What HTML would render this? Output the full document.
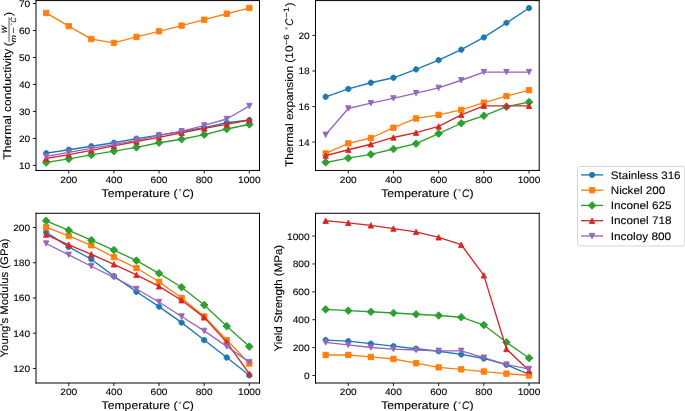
<!DOCTYPE html>
<html><head><meta charset="utf-8"><title>Material properties</title>
<style>html,body{margin:0;padding:0;background:#fff;}svg{display:block;}text{font-family:"Liberation Sans",sans-serif;} svg{will-change:transform;} text{stroke:#000;stroke-width:0.1px;text-rendering:geometricPrecision;}</style>
</head><body>
<svg  width="685" height="411" viewBox="0 0 685 411" version="1.1"><defs><style type="text/css">*{stroke-linejoin: round; stroke-linecap: butt}</style></defs><g id="figure_1"><g id="patch_1"><path d="M 0 411  L 685 411  L 685 0  L 0 0  z " style="fill: #ffffff"/></g><g id="axes_1"><g id="patch_2"><path d="M 36 170.45  L 259.5 170.45  L 259.5 0.6  L 36 0.6  z " style="fill: #ffffff"/></g><g id="matplotlib.axis_1"><g id="xtick_1"><g id="line2d_1"><defs></defs><g><path d="M 0 0  L 0 3.1  " style="stroke: #000000; stroke-width: 0.9;stroke: #000000; stroke-width: 0.9" transform="translate(68.735 170.45)"/></g></g><g id="text_1"><text style="font-size:9.345px;font-family:&quot;Liberation Sans&quot;, sans-serif;text-anchor:middle" x="68.735" y="182.913" textLength="16.988" lengthAdjust="spacingAndGlyphs">200</text></g></g><g id="xtick_2"><g id="line2d_2"><g><path d="M 0 0  L 0 3.1  " style="stroke: #000000; stroke-width: 0.9;stroke: #000000; stroke-width: 0.9" transform="translate(113.886 170.45)"/></g></g><g id="text_2"><text style="font-size:9.345px;font-family:&quot;Liberation Sans&quot;, sans-serif;text-anchor:middle" x="113.886" y="182.913" textLength="16.988" lengthAdjust="spacingAndGlyphs">400</text></g></g><g id="xtick_3"><g id="line2d_3"><g><path d="M 0 0  L 0 3.1  " style="stroke: #000000; stroke-width: 0.9;stroke: #000000; stroke-width: 0.9" transform="translate(159.038 170.45)"/></g></g><g id="text_3"><text style="font-size:9.345px;font-family:&quot;Liberation Sans&quot;, sans-serif;text-anchor:middle" x="159.038" y="182.913" textLength="16.988" lengthAdjust="spacingAndGlyphs">600</text></g></g><g id="xtick_4"><g id="line2d_4"><g><path d="M 0 0  L 0 3.1  " style="stroke: #000000; stroke-width: 0.9;stroke: #000000; stroke-width: 0.9" transform="translate(204.189 170.45)"/></g></g><g id="text_4"><text style="font-size:9.345px;font-family:&quot;Liberation Sans&quot;, sans-serif;text-anchor:middle" x="204.189" y="182.913" textLength="16.988" lengthAdjust="spacingAndGlyphs">800</text></g></g><g id="xtick_5"><g id="line2d_5"><g><path d="M 0 0  L 0 3.1  " style="stroke: #000000; stroke-width: 0.9;stroke: #000000; stroke-width: 0.9" transform="translate(249.341 170.45)"/></g></g><g id="text_5"><text style="font-size:9.345px;font-family:&quot;Liberation Sans&quot;, sans-serif;text-anchor:middle" x="249.341" y="182.913" textLength="22.651" lengthAdjust="spacingAndGlyphs">1000</text></g></g><g id="text_6" transform="translate(0 0.9) "><g transform="translate(101.55 196.443531)"><circle cx="78.367" cy="-7.182" r="0.911" style="fill:none;stroke:#000;stroke-width:0.456"/><text x="0" y="-0.656" style="font-size:11.025px;font-family:&quot;Liberation Sans&quot;, sans-serif" textLength="75.961" lengthAdjust="spacingAndGlyphs" xml:space="preserve">Temperature (</text><text x="88.299" y="-0.656" style="font-size:11.025px;font-family:&quot;Liberation Sans&quot;, sans-serif" textLength="4.096" lengthAdjust="spacingAndGlyphs" xml:space="preserve">)</text><text x="80.968" y="-0.656" style="font-size:11.025px;font-family:&quot;Liberation Sans&quot;, sans-serif;font-style:italic" textLength="7.332" lengthAdjust="spacingAndGlyphs" xml:space="preserve">C</text></g></g></g><g id="matplotlib.axis_2"><g id="ytick_1"><g id="line2d_6"><defs></defs><g><path d="M 0 0  L -3.1 0  " style="stroke: #000000; stroke-width: 0.9;stroke: #000000; stroke-width: 0.9" transform="translate(36 165.399)"/></g></g><g id="text_7"><text style="font-size:9.345px;font-family:&quot;Liberation Sans&quot;, sans-serif;text-anchor:end" x="30.2" y="168.88" textLength="11.325" lengthAdjust="spacingAndGlyphs">10</text></g></g><g id="ytick_2"><g id="line2d_7"><g><path d="M 0 0  L -3.1 0  " style="stroke: #000000; stroke-width: 0.9;stroke: #000000; stroke-width: 0.9" transform="translate(36 138.416)"/></g></g><g id="text_8"><text style="font-size:9.345px;font-family:&quot;Liberation Sans&quot;, sans-serif;text-anchor:end" x="30.2" y="141.897" textLength="11.325" lengthAdjust="spacingAndGlyphs">20</text></g></g><g id="ytick_3"><g id="line2d_8"><g><path d="M 0 0  L -3.1 0  " style="stroke: #000000; stroke-width: 0.9;stroke: #000000; stroke-width: 0.9" transform="translate(36 111.433)"/></g></g><g id="text_9"><text style="font-size:9.345px;font-family:&quot;Liberation Sans&quot;, sans-serif;text-anchor:end" x="30.2" y="114.914" textLength="11.325" lengthAdjust="spacingAndGlyphs">30</text></g></g><g id="ytick_4"><g id="line2d_9"><g><path d="M 0 0  L -3.1 0  " style="stroke: #000000; stroke-width: 0.9;stroke: #000000; stroke-width: 0.9" transform="translate(36 84.45)"/></g></g><g id="text_10"><text style="font-size:9.345px;font-family:&quot;Liberation Sans&quot;, sans-serif;text-anchor:end" x="30.2" y="87.931" textLength="11.325" lengthAdjust="spacingAndGlyphs">40</text></g></g><g id="ytick_5"><g id="line2d_10"><g><path d="M 0 0  L -3.1 0  " style="stroke: #000000; stroke-width: 0.9;stroke: #000000; stroke-width: 0.9" transform="translate(36 57.467)"/></g></g><g id="text_11"><text style="font-size:9.345px;font-family:&quot;Liberation Sans&quot;, sans-serif;text-anchor:end" x="30.2" y="60.948" textLength="11.325" lengthAdjust="spacingAndGlyphs">50</text></g></g><g id="ytick_6"><g id="line2d_11"><g><path d="M 0 0  L -3.1 0  " style="stroke: #000000; stroke-width: 0.9;stroke: #000000; stroke-width: 0.9" transform="translate(36 30.484)"/></g></g><g id="text_12"><text style="font-size:9.345px;font-family:&quot;Liberation Sans&quot;, sans-serif;text-anchor:end" x="30.2" y="33.965" textLength="11.325" lengthAdjust="spacingAndGlyphs">60</text></g></g><g id="ytick_7"><g id="line2d_12"><g><path d="M 0 0  L -3.1 0  " style="stroke: #000000; stroke-width: 0.9;stroke: #000000; stroke-width: 0.9" transform="translate(36 3.501)"/></g></g><g id="text_13"><text style="font-size:9.345px;font-family:&quot;Liberation Sans&quot;, sans-serif;text-anchor:end" x="30.2" y="6.982" textLength="11.325" lengthAdjust="spacingAndGlyphs">70</text></g></g><g id="text_14" transform="translate(1.0 -0.2) "><g transform="translate(10.96975 159.97) rotate(-90)"><text x="126.638" y="-4.889" style="font-size:7.718px;font-family:&quot;Liberation Sans&quot;, sans-serif;font-style:italic" textLength="7.267" lengthAdjust="spacingAndGlyphs" xml:space="preserve">W</text><text x="0" y="-0.631" style="font-size:11.025px;font-family:&quot;Liberation Sans&quot;, sans-serif" textLength="114.541" lengthAdjust="spacingAndGlyphs" xml:space="preserve">Thermal conductivity </text><text x="113.541" y="-0.131" style="font-size:11.025px;font-family:&quot;Liberation Sans&quot;, sans-serif" textLength="4.096" lengthAdjust="spacingAndGlyphs" xml:space="preserve">(</text><text x="143.769" y="-0.131" style="font-size:11.025px;font-family:&quot;Liberation Sans&quot;, sans-serif" textLength="4.096" lengthAdjust="spacingAndGlyphs" xml:space="preserve">)</text><circle cx="135.504" cy="-0.456" r="0.638" style="fill:none;stroke:#000;stroke-width:0.319"/><text x="126.229" y="4.112" style="font-size:7.718px;font-family:&quot;Liberation Sans&quot;, sans-serif" textLength="6.158" lengthAdjust="spacingAndGlyphs" xml:space="preserve">−</text><text x="117.638" y="4.112" style="font-size:7.718px;font-family:&quot;Liberation Sans&quot;, sans-serif;font-style:italic" textLength="7.16" lengthAdjust="spacingAndGlyphs" xml:space="preserve">m</text><text x="137.325" y="4.112" style="font-size:7.718px;font-family:&quot;Liberation Sans&quot;, sans-serif;font-style:italic" textLength="5.132" lengthAdjust="spacingAndGlyphs" xml:space="preserve">C</text><rect x="117.638" y="-3.264" width="24.81917" height="0.65625"/></g></g></g><g id="line2d_13"><path d="M 46.159091 153.256421  L 68.734848 149.748629  L 91.310606 146.240837  L 113.886364 142.733044  L 136.462121 138.685592  L 159.037879 135.1778  L 181.613636 131.400177  L 204.189394 127.622555  L 226.765152 122.765612  L 249.340909 120.06731  " clip-path="url(#pe776937f75)" style="fill: none; stroke: #1f77b4; stroke-width: 1.35; stroke-linecap: square"/><defs></defs><g clip-path="url(#pe776937f75)"><path d="M 0 2.7  C 0.716048 2.7 1.402866 2.415511 1.909188 1.909188  C 2.415511 1.402866 2.7 0.716048 2.7 0  C 2.7 -0.716048 2.415511 -1.402866 1.909188 -1.909188  C 1.402866 -2.415511 0.716048 -2.7 0 -2.7  C -0.716048 -2.7 -1.402866 -2.415511 -1.909188 -1.909188  C -2.415511 -1.402866 -2.7 -0.716048 -2.7 0  C -2.7 0.716048 -2.415511 1.402866 -1.909188 1.909188  C -1.402866 2.415511 -0.716048 2.7 0 2.7  z " style="stroke: #1f77b4; stroke-width: 0.9;fill: #1f77b4; stroke: #1f77b4; stroke-width: 0.9" transform="translate(46.159 153.256)"/><path d="M 0 2.7  C 0.716048 2.7 1.402866 2.415511 1.909188 1.909188  C 2.415511 1.402866 2.7 0.716048 2.7 0  C 2.7 -0.716048 2.415511 -1.402866 1.909188 -1.909188  C 1.402866 -2.415511 0.716048 -2.7 0 -2.7  C -0.716048 -2.7 -1.402866 -2.415511 -1.909188 -1.909188  C -2.415511 -1.402866 -2.7 -0.716048 -2.7 0  C -2.7 0.716048 -2.415511 1.402866 -1.909188 1.909188  C -1.402866 2.415511 -0.716048 2.7 0 2.7  z " style="stroke: #1f77b4; stroke-width: 0.9;fill: #1f77b4; stroke: #1f77b4; stroke-width: 0.9" transform="translate(68.735 149.749)"/><path d="M 0 2.7  C 0.716048 2.7 1.402866 2.415511 1.909188 1.909188  C 2.415511 1.402866 2.7 0.716048 2.7 0  C 2.7 -0.716048 2.415511 -1.402866 1.909188 -1.909188  C 1.402866 -2.415511 0.716048 -2.7 0 -2.7  C -0.716048 -2.7 -1.402866 -2.415511 -1.909188 -1.909188  C -2.415511 -1.402866 -2.7 -0.716048 -2.7 0  C -2.7 0.716048 -2.415511 1.402866 -1.909188 1.909188  C -1.402866 2.415511 -0.716048 2.7 0 2.7  z " style="stroke: #1f77b4; stroke-width: 0.9;fill: #1f77b4; stroke: #1f77b4; stroke-width: 0.9" transform="translate(91.311 146.241)"/><path d="M 0 2.7  C 0.716048 2.7 1.402866 2.415511 1.909188 1.909188  C 2.415511 1.402866 2.7 0.716048 2.7 0  C 2.7 -0.716048 2.415511 -1.402866 1.909188 -1.909188  C 1.402866 -2.415511 0.716048 -2.7 0 -2.7  C -0.716048 -2.7 -1.402866 -2.415511 -1.909188 -1.909188  C -2.415511 -1.402866 -2.7 -0.716048 -2.7 0  C -2.7 0.716048 -2.415511 1.402866 -1.909188 1.909188  C -1.402866 2.415511 -0.716048 2.7 0 2.7  z " style="stroke: #1f77b4; stroke-width: 0.9;fill: #1f77b4; stroke: #1f77b4; stroke-width: 0.9" transform="translate(113.886 142.733)"/><path d="M 0 2.7  C 0.716048 2.7 1.402866 2.415511 1.909188 1.909188  C 2.415511 1.402866 2.7 0.716048 2.7 0  C 2.7 -0.716048 2.415511 -1.402866 1.909188 -1.909188  C 1.402866 -2.415511 0.716048 -2.7 0 -2.7  C -0.716048 -2.7 -1.402866 -2.415511 -1.909188 -1.909188  C -2.415511 -1.402866 -2.7 -0.716048 -2.7 0  C -2.7 0.716048 -2.415511 1.402866 -1.909188 1.909188  C -1.402866 2.415511 -0.716048 2.7 0 2.7  z " style="stroke: #1f77b4; stroke-width: 0.9;fill: #1f77b4; stroke: #1f77b4; stroke-width: 0.9" transform="translate(136.462 138.686)"/><path d="M 0 2.7  C 0.716048 2.7 1.402866 2.415511 1.909188 1.909188  C 2.415511 1.402866 2.7 0.716048 2.7 0  C 2.7 -0.716048 2.415511 -1.402866 1.909188 -1.909188  C 1.402866 -2.415511 0.716048 -2.7 0 -2.7  C -0.716048 -2.7 -1.402866 -2.415511 -1.909188 -1.909188  C -2.415511 -1.402866 -2.7 -0.716048 -2.7 0  C -2.7 0.716048 -2.415511 1.402866 -1.909188 1.909188  C -1.402866 2.415511 -0.716048 2.7 0 2.7  z " style="stroke: #1f77b4; stroke-width: 0.9;fill: #1f77b4; stroke: #1f77b4; stroke-width: 0.9" transform="translate(159.038 135.178)"/><path d="M 0 2.7  C 0.716048 2.7 1.402866 2.415511 1.909188 1.909188  C 2.415511 1.402866 2.7 0.716048 2.7 0  C 2.7 -0.716048 2.415511 -1.402866 1.909188 -1.909188  C 1.402866 -2.415511 0.716048 -2.7 0 -2.7  C -0.716048 -2.7 -1.402866 -2.415511 -1.909188 -1.909188  C -2.415511 -1.402866 -2.7 -0.716048 -2.7 0  C -2.7 0.716048 -2.415511 1.402866 -1.909188 1.909188  C -1.402866 2.415511 -0.716048 2.7 0 2.7  z " style="stroke: #1f77b4; stroke-width: 0.9;fill: #1f77b4; stroke: #1f77b4; stroke-width: 0.9" transform="translate(181.614 131.4)"/><path d="M 0 2.7  C 0.716048 2.7 1.402866 2.415511 1.909188 1.909188  C 2.415511 1.402866 2.7 0.716048 2.7 0  C 2.7 -0.716048 2.415511 -1.402866 1.909188 -1.909188  C 1.402866 -2.415511 0.716048 -2.7 0 -2.7  C -0.716048 -2.7 -1.402866 -2.415511 -1.909188 -1.909188  C -2.415511 -1.402866 -2.7 -0.716048 -2.7 0  C -2.7 0.716048 -2.415511 1.402866 -1.909188 1.909188  C -1.402866 2.415511 -0.716048 2.7 0 2.7  z " style="stroke: #1f77b4; stroke-width: 0.9;fill: #1f77b4; stroke: #1f77b4; stroke-width: 0.9" transform="translate(204.189 127.623)"/><path d="M 0 2.7  C 0.716048 2.7 1.402866 2.415511 1.909188 1.909188  C 2.415511 1.402866 2.7 0.716048 2.7 0  C 2.7 -0.716048 2.415511 -1.402866 1.909188 -1.909188  C 1.402866 -2.415511 0.716048 -2.7 0 -2.7  C -0.716048 -2.7 -1.402866 -2.415511 -1.909188 -1.909188  C -2.415511 -1.402866 -2.7 -0.716048 -2.7 0  C -2.7 0.716048 -2.415511 1.402866 -1.909188 1.909188  C -1.402866 2.415511 -0.716048 2.7 0 2.7  z " style="stroke: #1f77b4; stroke-width: 0.9;fill: #1f77b4; stroke: #1f77b4; stroke-width: 0.9" transform="translate(226.765 122.766)"/><path d="M 0 2.7  C 0.716048 2.7 1.402866 2.415511 1.909188 1.909188  C 2.415511 1.402866 2.7 0.716048 2.7 0  C 2.7 -0.716048 2.415511 -1.402866 1.909188 -1.909188  C 1.402866 -2.415511 0.716048 -2.7 0 -2.7  C -0.716048 -2.7 -1.402866 -2.415511 -1.909188 -1.909188  C -2.415511 -1.402866 -2.7 -0.716048 -2.7 0  C -2.7 0.716048 -2.415511 1.402866 -1.909188 1.909188  C -1.402866 2.415511 -0.716048 2.7 0 2.7  z " style="stroke: #1f77b4; stroke-width: 0.9;fill: #1f77b4; stroke: #1f77b4; stroke-width: 0.9" transform="translate(249.341 120.067)"/></g></g><g id="line2d_14"><path d="M 46.159091 12.94473  L 68.734848 26.166409  L 91.310606 39.118257  L 113.886364 42.89588  L 136.462121 36.959616  L 159.037879 31.293182  L 181.613636 25.626749  L 204.189394 19.690485  L 226.765152 13.754221  L 249.340909 7.952872  " clip-path="url(#pe776937f75)" style="fill: none; stroke: #ff7f0e; stroke-width: 1.35; stroke-linecap: square"/><defs></defs><g clip-path="url(#pe776937f75)"><path d="M -2.7 2.7  L 2.7 2.7  L 2.7 -2.7  L -2.7 -2.7  z " style="stroke: #ff7f0e; stroke-width: 0.9; stroke-linejoin: miter;fill: #ff7f0e; stroke: #ff7f0e; stroke-width: 0.9; stroke-linejoin: miter" transform="translate(46.159 12.945)"/><path d="M -2.7 2.7  L 2.7 2.7  L 2.7 -2.7  L -2.7 -2.7  z " style="stroke: #ff7f0e; stroke-width: 0.9; stroke-linejoin: miter;fill: #ff7f0e; stroke: #ff7f0e; stroke-width: 0.9; stroke-linejoin: miter" transform="translate(68.735 26.166)"/><path d="M -2.7 2.7  L 2.7 2.7  L 2.7 -2.7  L -2.7 -2.7  z " style="stroke: #ff7f0e; stroke-width: 0.9; stroke-linejoin: miter;fill: #ff7f0e; stroke: #ff7f0e; stroke-width: 0.9; stroke-linejoin: miter" transform="translate(91.311 39.118)"/><path d="M -2.7 2.7  L 2.7 2.7  L 2.7 -2.7  L -2.7 -2.7  z " style="stroke: #ff7f0e; stroke-width: 0.9; stroke-linejoin: miter;fill: #ff7f0e; stroke: #ff7f0e; stroke-width: 0.9; stroke-linejoin: miter" transform="translate(113.886 42.896)"/><path d="M -2.7 2.7  L 2.7 2.7  L 2.7 -2.7  L -2.7 -2.7  z " style="stroke: #ff7f0e; stroke-width: 0.9; stroke-linejoin: miter;fill: #ff7f0e; stroke: #ff7f0e; stroke-width: 0.9; stroke-linejoin: miter" transform="translate(136.462 36.96)"/><path d="M -2.7 2.7  L 2.7 2.7  L 2.7 -2.7  L -2.7 -2.7  z " style="stroke: #ff7f0e; stroke-width: 0.9; stroke-linejoin: miter;fill: #ff7f0e; stroke: #ff7f0e; stroke-width: 0.9; stroke-linejoin: miter" transform="translate(159.038 31.293)"/><path d="M -2.7 2.7  L 2.7 2.7  L 2.7 -2.7  L -2.7 -2.7  z " style="stroke: #ff7f0e; stroke-width: 0.9; stroke-linejoin: miter;fill: #ff7f0e; stroke: #ff7f0e; stroke-width: 0.9; stroke-linejoin: miter" transform="translate(181.614 25.627)"/><path d="M -2.7 2.7  L 2.7 2.7  L 2.7 -2.7  L -2.7 -2.7  z " style="stroke: #ff7f0e; stroke-width: 0.9; stroke-linejoin: miter;fill: #ff7f0e; stroke: #ff7f0e; stroke-width: 0.9; stroke-linejoin: miter" transform="translate(204.189 19.69)"/><path d="M -2.7 2.7  L 2.7 2.7  L 2.7 -2.7  L -2.7 -2.7  z " style="stroke: #ff7f0e; stroke-width: 0.9; stroke-linejoin: miter;fill: #ff7f0e; stroke: #ff7f0e; stroke-width: 0.9; stroke-linejoin: miter" transform="translate(226.765 13.754)"/><path d="M -2.7 2.7  L 2.7 2.7  L 2.7 -2.7  L -2.7 -2.7  z " style="stroke: #ff7f0e; stroke-width: 0.9; stroke-linejoin: miter;fill: #ff7f0e; stroke: #ff7f0e; stroke-width: 0.9; stroke-linejoin: miter" transform="translate(249.341 7.953)"/></g></g><g id="line2d_15"><path d="M 46.159091 162.484613  L 68.734848 158.922855  L 91.310606 154.875402  L 113.886364 151.09778  L 136.462121 147.320157  L 159.037879 142.733044  L 181.613636 139.225252  L 204.189394 134.638139  L 226.765152 128.971706  L 249.340909 124.384593  " clip-path="url(#pe776937f75)" style="fill: none; stroke: #2ca02c; stroke-width: 1.35; stroke-linecap: square"/><defs></defs><g clip-path="url(#pe776937f75)"><path d="M -0 3.818377  L 3.818377 0  L 0 -3.818377  L -3.818377 -0  z " style="stroke: #2ca02c; stroke-width: 0.9; stroke-linejoin: miter;fill: #2ca02c; stroke: #2ca02c; stroke-width: 0.9; stroke-linejoin: miter" transform="translate(46.159 162.485)"/><path d="M -0 3.818377  L 3.818377 0  L 0 -3.818377  L -3.818377 -0  z " style="stroke: #2ca02c; stroke-width: 0.9; stroke-linejoin: miter;fill: #2ca02c; stroke: #2ca02c; stroke-width: 0.9; stroke-linejoin: miter" transform="translate(68.735 158.923)"/><path d="M -0 3.818377  L 3.818377 0  L 0 -3.818377  L -3.818377 -0  z " style="stroke: #2ca02c; stroke-width: 0.9; stroke-linejoin: miter;fill: #2ca02c; stroke: #2ca02c; stroke-width: 0.9; stroke-linejoin: miter" transform="translate(91.311 154.875)"/><path d="M -0 3.818377  L 3.818377 0  L 0 -3.818377  L -3.818377 -0  z " style="stroke: #2ca02c; stroke-width: 0.9; stroke-linejoin: miter;fill: #2ca02c; stroke: #2ca02c; stroke-width: 0.9; stroke-linejoin: miter" transform="translate(113.886 151.098)"/><path d="M -0 3.818377  L 3.818377 0  L 0 -3.818377  L -3.818377 -0  z " style="stroke: #2ca02c; stroke-width: 0.9; stroke-linejoin: miter;fill: #2ca02c; stroke: #2ca02c; stroke-width: 0.9; stroke-linejoin: miter" transform="translate(136.462 147.32)"/><path d="M -0 3.818377  L 3.818377 0  L 0 -3.818377  L -3.818377 -0  z " style="stroke: #2ca02c; stroke-width: 0.9; stroke-linejoin: miter;fill: #2ca02c; stroke: #2ca02c; stroke-width: 0.9; stroke-linejoin: miter" transform="translate(159.038 142.733)"/><path d="M -0 3.818377  L 3.818377 0  L 0 -3.818377  L -3.818377 -0  z " style="stroke: #2ca02c; stroke-width: 0.9; stroke-linejoin: miter;fill: #2ca02c; stroke: #2ca02c; stroke-width: 0.9; stroke-linejoin: miter" transform="translate(181.614 139.225)"/><path d="M -0 3.818377  L 3.818377 0  L 0 -3.818377  L -3.818377 -0  z " style="stroke: #2ca02c; stroke-width: 0.9; stroke-linejoin: miter;fill: #2ca02c; stroke: #2ca02c; stroke-width: 0.9; stroke-linejoin: miter" transform="translate(204.189 134.638)"/><path d="M -0 3.818377  L 3.818377 0  L 0 -3.818377  L -3.818377 -0  z " style="stroke: #2ca02c; stroke-width: 0.9; stroke-linejoin: miter;fill: #2ca02c; stroke: #2ca02c; stroke-width: 0.9; stroke-linejoin: miter" transform="translate(226.765 128.972)"/><path d="M -0 3.818377  L 3.818377 0  L 0 -3.818377  L -3.818377 -0  z " style="stroke: #2ca02c; stroke-width: 0.9; stroke-linejoin: miter;fill: #2ca02c; stroke: #2ca02c; stroke-width: 0.9; stroke-linejoin: miter" transform="translate(249.341 124.385)"/></g></g><g id="line2d_16"><path d="M 46.159091 158.383195  L 68.734848 154.605572  L 91.310606 150.288289  L 113.886364 145.836091  L 136.462121 141.518809  L 159.037879 137.336441  L 181.613636 132.749328  L 204.189394 128.432045  L 226.765152 124.384593  L 249.340909 120.06731  " clip-path="url(#pe776937f75)" style="fill: none; stroke: #d62728; stroke-width: 1.35; stroke-linecap: square"/><defs></defs><g clip-path="url(#pe776937f75)"><path d="M 0 -2.7  L -2.7 2.7  L 2.7 2.7  z " style="stroke: #d62728; stroke-width: 0.9; stroke-linejoin: miter;fill: #d62728; stroke: #d62728; stroke-width: 0.9; stroke-linejoin: miter" transform="translate(46.159 158.383)"/><path d="M 0 -2.7  L -2.7 2.7  L 2.7 2.7  z " style="stroke: #d62728; stroke-width: 0.9; stroke-linejoin: miter;fill: #d62728; stroke: #d62728; stroke-width: 0.9; stroke-linejoin: miter" transform="translate(68.735 154.606)"/><path d="M 0 -2.7  L -2.7 2.7  L 2.7 2.7  z " style="stroke: #d62728; stroke-width: 0.9; stroke-linejoin: miter;fill: #d62728; stroke: #d62728; stroke-width: 0.9; stroke-linejoin: miter" transform="translate(91.311 150.288)"/><path d="M 0 -2.7  L -2.7 2.7  L 2.7 2.7  z " style="stroke: #d62728; stroke-width: 0.9; stroke-linejoin: miter;fill: #d62728; stroke: #d62728; stroke-width: 0.9; stroke-linejoin: miter" transform="translate(113.886 145.836)"/><path d="M 0 -2.7  L -2.7 2.7  L 2.7 2.7  z " style="stroke: #d62728; stroke-width: 0.9; stroke-linejoin: miter;fill: #d62728; stroke: #d62728; stroke-width: 0.9; stroke-linejoin: miter" transform="translate(136.462 141.519)"/><path d="M 0 -2.7  L -2.7 2.7  L 2.7 2.7  z " style="stroke: #d62728; stroke-width: 0.9; stroke-linejoin: miter;fill: #d62728; stroke: #d62728; stroke-width: 0.9; stroke-linejoin: miter" transform="translate(159.038 137.336)"/><path d="M 0 -2.7  L -2.7 2.7  L 2.7 2.7  z " style="stroke: #d62728; stroke-width: 0.9; stroke-linejoin: miter;fill: #d62728; stroke: #d62728; stroke-width: 0.9; stroke-linejoin: miter" transform="translate(181.614 132.749)"/><path d="M 0 -2.7  L -2.7 2.7  L 2.7 2.7  z " style="stroke: #d62728; stroke-width: 0.9; stroke-linejoin: miter;fill: #d62728; stroke: #d62728; stroke-width: 0.9; stroke-linejoin: miter" transform="translate(204.189 128.432)"/><path d="M 0 -2.7  L -2.7 2.7  L 2.7 2.7  z " style="stroke: #d62728; stroke-width: 0.9; stroke-linejoin: miter;fill: #d62728; stroke: #d62728; stroke-width: 0.9; stroke-linejoin: miter" transform="translate(226.765 124.385)"/><path d="M 0 -2.7  L -2.7 2.7  L 2.7 2.7  z " style="stroke: #d62728; stroke-width: 0.9; stroke-linejoin: miter;fill: #d62728; stroke: #d62728; stroke-width: 0.9; stroke-linejoin: miter" transform="translate(249.341 120.067)"/></g></g><g id="line2d_17"><path d="M 46.159091 156.494383  L 68.734848 152.446931  L 91.310606 148.399478  L 113.886364 144.621856  L 136.462121 140.304573  L 159.037879 135.44763  L 181.613636 131.400177  L 204.189394 125.463913  L 226.765152 118.987989  L 249.340909 106.036141  " clip-path="url(#pe776937f75)" style="fill: none; stroke: #9467bd; stroke-width: 1.35; stroke-linecap: square"/><defs></defs><g clip-path="url(#pe776937f75)"><path d="M -0 2.7  L 2.7 -2.7  L -2.7 -2.7  z " style="stroke: #9467bd; stroke-width: 0.9; stroke-linejoin: miter;fill: #9467bd; stroke: #9467bd; stroke-width: 0.9; stroke-linejoin: miter" transform="translate(46.159 156.494)"/><path d="M -0 2.7  L 2.7 -2.7  L -2.7 -2.7  z " style="stroke: #9467bd; stroke-width: 0.9; stroke-linejoin: miter;fill: #9467bd; stroke: #9467bd; stroke-width: 0.9; stroke-linejoin: miter" transform="translate(68.735 152.447)"/><path d="M -0 2.7  L 2.7 -2.7  L -2.7 -2.7  z " style="stroke: #9467bd; stroke-width: 0.9; stroke-linejoin: miter;fill: #9467bd; stroke: #9467bd; stroke-width: 0.9; stroke-linejoin: miter" transform="translate(91.311 148.399)"/><path d="M -0 2.7  L 2.7 -2.7  L -2.7 -2.7  z " style="stroke: #9467bd; stroke-width: 0.9; stroke-linejoin: miter;fill: #9467bd; stroke: #9467bd; stroke-width: 0.9; stroke-linejoin: miter" transform="translate(113.886 144.622)"/><path d="M -0 2.7  L 2.7 -2.7  L -2.7 -2.7  z " style="stroke: #9467bd; stroke-width: 0.9; stroke-linejoin: miter;fill: #9467bd; stroke: #9467bd; stroke-width: 0.9; stroke-linejoin: miter" transform="translate(136.462 140.305)"/><path d="M -0 2.7  L 2.7 -2.7  L -2.7 -2.7  z " style="stroke: #9467bd; stroke-width: 0.9; stroke-linejoin: miter;fill: #9467bd; stroke: #9467bd; stroke-width: 0.9; stroke-linejoin: miter" transform="translate(159.038 135.448)"/><path d="M -0 2.7  L 2.7 -2.7  L -2.7 -2.7  z " style="stroke: #9467bd; stroke-width: 0.9; stroke-linejoin: miter;fill: #9467bd; stroke: #9467bd; stroke-width: 0.9; stroke-linejoin: miter" transform="translate(181.614 131.4)"/><path d="M -0 2.7  L 2.7 -2.7  L -2.7 -2.7  z " style="stroke: #9467bd; stroke-width: 0.9; stroke-linejoin: miter;fill: #9467bd; stroke: #9467bd; stroke-width: 0.9; stroke-linejoin: miter" transform="translate(204.189 125.464)"/><path d="M -0 2.7  L 2.7 -2.7  L -2.7 -2.7  z " style="stroke: #9467bd; stroke-width: 0.9; stroke-linejoin: miter;fill: #9467bd; stroke: #9467bd; stroke-width: 0.9; stroke-linejoin: miter" transform="translate(226.765 118.988)"/><path d="M -0 2.7  L 2.7 -2.7  L -2.7 -2.7  z " style="stroke: #9467bd; stroke-width: 0.9; stroke-linejoin: miter;fill: #9467bd; stroke: #9467bd; stroke-width: 0.9; stroke-linejoin: miter" transform="translate(249.341 106.036)"/></g></g><g id="patch_3"><path d="M 36 170.45  L 36 0.6  " style="fill: none; stroke: #000000; stroke-linejoin: miter; stroke-linecap: square"/></g><g id="patch_4"><path d="M 259.5 170.45  L 259.5 0.6  " style="fill: none; stroke: #000000; stroke-linejoin: miter; stroke-linecap: square"/></g><g id="patch_5"><path d="M 36 170.45  L 259.5 170.45  " style="fill: none; stroke: #000000; stroke-linejoin: miter; stroke-linecap: square"/></g><g id="patch_6"><path d="M 36 0.6  L 259.5 0.6  " style="fill: none; stroke: #000000; stroke-linejoin: miter; stroke-linecap: square"/></g></g><g id="axes_2"><g id="patch_7"><path d="M 315.5 170.45  L 539.2 170.45  L 539.2 0.6  L 315.5 0.6  z " style="fill: #ffffff"/></g><g id="matplotlib.axis_3"><g id="xtick_6"><g id="line2d_18"><g><path d="M 0 0  L 0 3.1  " style="stroke: #000000; stroke-width: 0.9;stroke: #000000; stroke-width: 0.9" transform="translate(348.264 170.45)"/></g></g><g id="text_15"><text style="font-size:9.345px;font-family:&quot;Liberation Sans&quot;, sans-serif;text-anchor:middle" x="348.264" y="182.913" textLength="16.988" lengthAdjust="spacingAndGlyphs">200</text></g></g><g id="xtick_7"><g id="line2d_19"><g><path d="M 0 0  L 0 3.1  " style="stroke: #000000; stroke-width: 0.9;stroke: #000000; stroke-width: 0.9" transform="translate(393.456 170.45)"/></g></g><g id="text_16"><text style="font-size:9.345px;font-family:&quot;Liberation Sans&quot;, sans-serif;text-anchor:middle" x="393.456" y="182.913" textLength="16.988" lengthAdjust="spacingAndGlyphs">400</text></g></g><g id="xtick_8"><g id="line2d_20"><g><path d="M 0 0  L 0 3.1  " style="stroke: #000000; stroke-width: 0.9;stroke: #000000; stroke-width: 0.9" transform="translate(438.648 170.45)"/></g></g><g id="text_17"><text style="font-size:9.345px;font-family:&quot;Liberation Sans&quot;, sans-serif;text-anchor:middle" x="438.648" y="182.913" textLength="16.988" lengthAdjust="spacingAndGlyphs">600</text></g></g><g id="xtick_9"><g id="line2d_21"><g><path d="M 0 0  L 0 3.1  " style="stroke: #000000; stroke-width: 0.9;stroke: #000000; stroke-width: 0.9" transform="translate(483.84 170.45)"/></g></g><g id="text_18"><text style="font-size:9.345px;font-family:&quot;Liberation Sans&quot;, sans-serif;text-anchor:middle" x="483.84" y="182.913" textLength="16.988" lengthAdjust="spacingAndGlyphs">800</text></g></g><g id="xtick_10"><g id="line2d_22"><g><path d="M 0 0  L 0 3.1  " style="stroke: #000000; stroke-width: 0.9;stroke: #000000; stroke-width: 0.9" transform="translate(529.032 170.45)"/></g></g><g id="text_19"><text style="font-size:9.345px;font-family:&quot;Liberation Sans&quot;, sans-serif;text-anchor:middle" x="529.032" y="182.913" textLength="22.651" lengthAdjust="spacingAndGlyphs">1000</text></g></g><g id="text_20" transform="translate(0 0.9) "><g transform="translate(381.15 196.443531)"><circle cx="78.367" cy="-7.182" r="0.911" style="fill:none;stroke:#000;stroke-width:0.456"/><text x="0" y="-0.656" style="font-size:11.025px;font-family:&quot;Liberation Sans&quot;, sans-serif" textLength="75.961" lengthAdjust="spacingAndGlyphs" xml:space="preserve">Temperature (</text><text x="88.299" y="-0.656" style="font-size:11.025px;font-family:&quot;Liberation Sans&quot;, sans-serif" textLength="4.096" lengthAdjust="spacingAndGlyphs" xml:space="preserve">)</text><text x="80.968" y="-0.656" style="font-size:11.025px;font-family:&quot;Liberation Sans&quot;, sans-serif;font-style:italic" textLength="7.332" lengthAdjust="spacingAndGlyphs" xml:space="preserve">C</text></g></g></g><g id="matplotlib.axis_4"><g id="ytick_8"><g id="line2d_23"><g><path d="M 0 0  L -3.1 0  " style="stroke: #000000; stroke-width: 0.9;stroke: #000000; stroke-width: 0.9" transform="translate(315.5 142.088)"/></g></g><g id="text_21"><text style="font-size:9.345px;font-family:&quot;Liberation Sans&quot;, sans-serif;text-anchor:end" x="309.7" y="145.57" textLength="11.325" lengthAdjust="spacingAndGlyphs">14</text></g></g><g id="ytick_9"><g id="line2d_24"><g><path d="M 0 0  L -3.1 0  " style="stroke: #000000; stroke-width: 0.9;stroke: #000000; stroke-width: 0.9" transform="translate(315.5 106.547)"/></g></g><g id="text_22"><text style="font-size:9.345px;font-family:&quot;Liberation Sans&quot;, sans-serif;text-anchor:end" x="309.7" y="110.029" textLength="11.325" lengthAdjust="spacingAndGlyphs">16</text></g></g><g id="ytick_10"><g id="line2d_25"><g><path d="M 0 0  L -3.1 0  " style="stroke: #000000; stroke-width: 0.9;stroke: #000000; stroke-width: 0.9" transform="translate(315.5 71.007)"/></g></g><g id="text_23"><text style="font-size:9.345px;font-family:&quot;Liberation Sans&quot;, sans-serif;text-anchor:end" x="309.7" y="74.488" textLength="11.325" lengthAdjust="spacingAndGlyphs">18</text></g></g><g id="ytick_11"><g id="line2d_26"><g><path d="M 0 0  L -3.1 0  " style="stroke: #000000; stroke-width: 0.9;stroke: #000000; stroke-width: 0.9" transform="translate(315.5 35.466)"/></g></g><g id="text_24"><text style="font-size:9.345px;font-family:&quot;Liberation Sans&quot;, sans-serif;text-anchor:end" x="309.7" y="38.947" textLength="11.325" lengthAdjust="spacingAndGlyphs">20</text></g></g><g id="text_25" transform="translate(0.4 -0.8) "><g transform="translate(292.56975 167.74) rotate(-90)"><text x="121.558" y="-4.28" style="font-size:7.718px;font-family:&quot;Liberation Sans&quot;, sans-serif" textLength="10.835" lengthAdjust="spacingAndGlyphs" xml:space="preserve">−6</text><circle cx="138.508" cy="-6.595" r="0.911" style="fill:none;stroke:#000;stroke-width:0.456"/><text x="149.234" y="-4.28" style="font-size:7.718px;font-family:&quot;Liberation Sans&quot;, sans-serif" textLength="10.835" lengthAdjust="spacingAndGlyphs" xml:space="preserve">−1</text><text x="0" y="-0.069" style="font-size:11.025px;font-family:&quot;Liberation Sans&quot;, sans-serif" textLength="121.452" lengthAdjust="spacingAndGlyphs" xml:space="preserve">Thermal expansion (10</text><text x="160.37" y="-0.069" style="font-size:11.025px;font-family:&quot;Liberation Sans&quot;, sans-serif" textLength="4.096" lengthAdjust="spacingAndGlyphs" xml:space="preserve">)</text><text x="141.11" y="-0.069" style="font-size:11.025px;font-family:&quot;Liberation Sans&quot;, sans-serif;font-style:italic" textLength="7.332" lengthAdjust="spacingAndGlyphs" xml:space="preserve">C</text></g></g></g><g id="line2d_27"><path d="M 325.668182 96.773697  L 348.264141 88.954698  L 370.860101 82.735039  L 393.456061 77.759312  L 416.05202 69.407198  L 438.64798 60.166562  L 461.243939 49.681994  L 483.839899 37.420381  L 506.435859 22.848608  L 529.031818 8.099132  " clip-path="url(#p05e5b74127)" style="fill: none; stroke: #1f77b4; stroke-width: 1.35; stroke-linecap: square"/><g clip-path="url(#p05e5b74127)"><path d="M 0 2.7  C 0.716048 2.7 1.402866 2.415511 1.909188 1.909188  C 2.415511 1.402866 2.7 0.716048 2.7 0  C 2.7 -0.716048 2.415511 -1.402866 1.909188 -1.909188  C 1.402866 -2.415511 0.716048 -2.7 0 -2.7  C -0.716048 -2.7 -1.402866 -2.415511 -1.909188 -1.909188  C -2.415511 -1.402866 -2.7 -0.716048 -2.7 0  C -2.7 0.716048 -2.415511 1.402866 -1.909188 1.909188  C -1.402866 2.415511 -0.716048 2.7 0 2.7  z " style="stroke: #1f77b4; stroke-width: 0.9;fill: #1f77b4; stroke: #1f77b4; stroke-width: 0.9" transform="translate(325.668 96.774)"/><path d="M 0 2.7  C 0.716048 2.7 1.402866 2.415511 1.909188 1.909188  C 2.415511 1.402866 2.7 0.716048 2.7 0  C 2.7 -0.716048 2.415511 -1.402866 1.909188 -1.909188  C 1.402866 -2.415511 0.716048 -2.7 0 -2.7  C -0.716048 -2.7 -1.402866 -2.415511 -1.909188 -1.909188  C -2.415511 -1.402866 -2.7 -0.716048 -2.7 0  C -2.7 0.716048 -2.415511 1.402866 -1.909188 1.909188  C -1.402866 2.415511 -0.716048 2.7 0 2.7  z " style="stroke: #1f77b4; stroke-width: 0.9;fill: #1f77b4; stroke: #1f77b4; stroke-width: 0.9" transform="translate(348.264 88.955)"/><path d="M 0 2.7  C 0.716048 2.7 1.402866 2.415511 1.909188 1.909188  C 2.415511 1.402866 2.7 0.716048 2.7 0  C 2.7 -0.716048 2.415511 -1.402866 1.909188 -1.909188  C 1.402866 -2.415511 0.716048 -2.7 0 -2.7  C -0.716048 -2.7 -1.402866 -2.415511 -1.909188 -1.909188  C -2.415511 -1.402866 -2.7 -0.716048 -2.7 0  C -2.7 0.716048 -2.415511 1.402866 -1.909188 1.909188  C -1.402866 2.415511 -0.716048 2.7 0 2.7  z " style="stroke: #1f77b4; stroke-width: 0.9;fill: #1f77b4; stroke: #1f77b4; stroke-width: 0.9" transform="translate(370.86 82.735)"/><path d="M 0 2.7  C 0.716048 2.7 1.402866 2.415511 1.909188 1.909188  C 2.415511 1.402866 2.7 0.716048 2.7 0  C 2.7 -0.716048 2.415511 -1.402866 1.909188 -1.909188  C 1.402866 -2.415511 0.716048 -2.7 0 -2.7  C -0.716048 -2.7 -1.402866 -2.415511 -1.909188 -1.909188  C -2.415511 -1.402866 -2.7 -0.716048 -2.7 0  C -2.7 0.716048 -2.415511 1.402866 -1.909188 1.909188  C -1.402866 2.415511 -0.716048 2.7 0 2.7  z " style="stroke: #1f77b4; stroke-width: 0.9;fill: #1f77b4; stroke: #1f77b4; stroke-width: 0.9" transform="translate(393.456 77.759)"/><path d="M 0 2.7  C 0.716048 2.7 1.402866 2.415511 1.909188 1.909188  C 2.415511 1.402866 2.7 0.716048 2.7 0  C 2.7 -0.716048 2.415511 -1.402866 1.909188 -1.909188  C 1.402866 -2.415511 0.716048 -2.7 0 -2.7  C -0.716048 -2.7 -1.402866 -2.415511 -1.909188 -1.909188  C -2.415511 -1.402866 -2.7 -0.716048 -2.7 0  C -2.7 0.716048 -2.415511 1.402866 -1.909188 1.909188  C -1.402866 2.415511 -0.716048 2.7 0 2.7  z " style="stroke: #1f77b4; stroke-width: 0.9;fill: #1f77b4; stroke: #1f77b4; stroke-width: 0.9" transform="translate(416.052 69.407)"/><path d="M 0 2.7  C 0.716048 2.7 1.402866 2.415511 1.909188 1.909188  C 2.415511 1.402866 2.7 0.716048 2.7 0  C 2.7 -0.716048 2.415511 -1.402866 1.909188 -1.909188  C 1.402866 -2.415511 0.716048 -2.7 0 -2.7  C -0.716048 -2.7 -1.402866 -2.415511 -1.909188 -1.909188  C -2.415511 -1.402866 -2.7 -0.716048 -2.7 0  C -2.7 0.716048 -2.415511 1.402866 -1.909188 1.909188  C -1.402866 2.415511 -0.716048 2.7 0 2.7  z " style="stroke: #1f77b4; stroke-width: 0.9;fill: #1f77b4; stroke: #1f77b4; stroke-width: 0.9" transform="translate(438.648 60.167)"/><path d="M 0 2.7  C 0.716048 2.7 1.402866 2.415511 1.909188 1.909188  C 2.415511 1.402866 2.7 0.716048 2.7 0  C 2.7 -0.716048 2.415511 -1.402866 1.909188 -1.909188  C 1.402866 -2.415511 0.716048 -2.7 0 -2.7  C -0.716048 -2.7 -1.402866 -2.415511 -1.909188 -1.909188  C -2.415511 -1.402866 -2.7 -0.716048 -2.7 0  C -2.7 0.716048 -2.415511 1.402866 -1.909188 1.909188  C -1.402866 2.415511 -0.716048 2.7 0 2.7  z " style="stroke: #1f77b4; stroke-width: 0.9;fill: #1f77b4; stroke: #1f77b4; stroke-width: 0.9" transform="translate(461.244 49.682)"/><path d="M 0 2.7  C 0.716048 2.7 1.402866 2.415511 1.909188 1.909188  C 2.415511 1.402866 2.7 0.716048 2.7 0  C 2.7 -0.716048 2.415511 -1.402866 1.909188 -1.909188  C 1.402866 -2.415511 0.716048 -2.7 0 -2.7  C -0.716048 -2.7 -1.402866 -2.415511 -1.909188 -1.909188  C -2.415511 -1.402866 -2.7 -0.716048 -2.7 0  C -2.7 0.716048 -2.415511 1.402866 -1.909188 1.909188  C -1.402866 2.415511 -0.716048 2.7 0 2.7  z " style="stroke: #1f77b4; stroke-width: 0.9;fill: #1f77b4; stroke: #1f77b4; stroke-width: 0.9" transform="translate(483.84 37.42)"/><path d="M 0 2.7  C 0.716048 2.7 1.402866 2.415511 1.909188 1.909188  C 2.415511 1.402866 2.7 0.716048 2.7 0  C 2.7 -0.716048 2.415511 -1.402866 1.909188 -1.909188  C 1.402866 -2.415511 0.716048 -2.7 0 -2.7  C -0.716048 -2.7 -1.402866 -2.415511 -1.909188 -1.909188  C -2.415511 -1.402866 -2.7 -0.716048 -2.7 0  C -2.7 0.716048 -2.415511 1.402866 -1.909188 1.909188  C -1.402866 2.415511 -0.716048 2.7 0 2.7  z " style="stroke: #1f77b4; stroke-width: 0.9;fill: #1f77b4; stroke: #1f77b4; stroke-width: 0.9" transform="translate(506.436 22.849)"/><path d="M 0 2.7  C 0.716048 2.7 1.402866 2.415511 1.909188 1.909188  C 2.415511 1.402866 2.7 0.716048 2.7 0  C 2.7 -0.716048 2.415511 -1.402866 1.909188 -1.909188  C 1.402866 -2.415511 0.716048 -2.7 0 -2.7  C -0.716048 -2.7 -1.402866 -2.415511 -1.909188 -1.909188  C -2.415511 -1.402866 -2.7 -0.716048 -2.7 0  C -2.7 0.716048 -2.415511 1.402866 -1.909188 1.909188  C -1.402866 2.415511 -0.716048 2.7 0 2.7  z " style="stroke: #1f77b4; stroke-width: 0.9;fill: #1f77b4; stroke: #1f77b4; stroke-width: 0.9" transform="translate(529.032 8.099)"/></g></g><g id="line2d_28"><path d="M 325.668182 153.461446  L 348.264141 143.332287  L 370.860101 138.001151  L 393.456061 127.694288  L 416.05202 118.453651  L 438.64798 114.899561  L 461.243939 109.923833  L 483.839899 102.637947  L 506.435859 96.062879  L 529.031818 90.198629  " clip-path="url(#p05e5b74127)" style="fill: none; stroke: #ff7f0e; stroke-width: 1.35; stroke-linecap: square"/><g clip-path="url(#p05e5b74127)"><path d="M -2.7 2.7  L 2.7 2.7  L 2.7 -2.7  L -2.7 -2.7  z " style="stroke: #ff7f0e; stroke-width: 0.9; stroke-linejoin: miter;fill: #ff7f0e; stroke: #ff7f0e; stroke-width: 0.9; stroke-linejoin: miter" transform="translate(325.668 153.461)"/><path d="M -2.7 2.7  L 2.7 2.7  L 2.7 -2.7  L -2.7 -2.7  z " style="stroke: #ff7f0e; stroke-width: 0.9; stroke-linejoin: miter;fill: #ff7f0e; stroke: #ff7f0e; stroke-width: 0.9; stroke-linejoin: miter" transform="translate(348.264 143.332)"/><path d="M -2.7 2.7  L 2.7 2.7  L 2.7 -2.7  L -2.7 -2.7  z " style="stroke: #ff7f0e; stroke-width: 0.9; stroke-linejoin: miter;fill: #ff7f0e; stroke: #ff7f0e; stroke-width: 0.9; stroke-linejoin: miter" transform="translate(370.86 138.001)"/><path d="M -2.7 2.7  L 2.7 2.7  L 2.7 -2.7  L -2.7 -2.7  z " style="stroke: #ff7f0e; stroke-width: 0.9; stroke-linejoin: miter;fill: #ff7f0e; stroke: #ff7f0e; stroke-width: 0.9; stroke-linejoin: miter" transform="translate(393.456 127.694)"/><path d="M -2.7 2.7  L 2.7 2.7  L 2.7 -2.7  L -2.7 -2.7  z " style="stroke: #ff7f0e; stroke-width: 0.9; stroke-linejoin: miter;fill: #ff7f0e; stroke: #ff7f0e; stroke-width: 0.9; stroke-linejoin: miter" transform="translate(416.052 118.454)"/><path d="M -2.7 2.7  L 2.7 2.7  L 2.7 -2.7  L -2.7 -2.7  z " style="stroke: #ff7f0e; stroke-width: 0.9; stroke-linejoin: miter;fill: #ff7f0e; stroke: #ff7f0e; stroke-width: 0.9; stroke-linejoin: miter" transform="translate(438.648 114.9)"/><path d="M -2.7 2.7  L 2.7 2.7  L 2.7 -2.7  L -2.7 -2.7  z " style="stroke: #ff7f0e; stroke-width: 0.9; stroke-linejoin: miter;fill: #ff7f0e; stroke: #ff7f0e; stroke-width: 0.9; stroke-linejoin: miter" transform="translate(461.244 109.924)"/><path d="M -2.7 2.7  L 2.7 2.7  L 2.7 -2.7  L -2.7 -2.7  z " style="stroke: #ff7f0e; stroke-width: 0.9; stroke-linejoin: miter;fill: #ff7f0e; stroke: #ff7f0e; stroke-width: 0.9; stroke-linejoin: miter" transform="translate(483.84 102.638)"/><path d="M -2.7 2.7  L 2.7 2.7  L 2.7 -2.7  L -2.7 -2.7  z " style="stroke: #ff7f0e; stroke-width: 0.9; stroke-linejoin: miter;fill: #ff7f0e; stroke: #ff7f0e; stroke-width: 0.9; stroke-linejoin: miter" transform="translate(506.436 96.063)"/><path d="M -2.7 2.7  L 2.7 2.7  L 2.7 -2.7  L -2.7 -2.7  z " style="stroke: #ff7f0e; stroke-width: 0.9; stroke-linejoin: miter;fill: #ff7f0e; stroke: #ff7f0e; stroke-width: 0.9; stroke-linejoin: miter" transform="translate(529.032 90.199)"/></g></g><g id="line2d_29"><path d="M 325.668182 162.346673  L 348.264141 158.081764  L 370.860101 154.349969  L 393.456061 149.018832  L 416.05202 143.687696  L 438.64798 133.558537  L 461.243939 123.251674  L 483.839899 115.788083  L 506.435859 106.725152  L 529.031818 102.104834  " clip-path="url(#p05e5b74127)" style="fill: none; stroke: #2ca02c; stroke-width: 1.35; stroke-linecap: square"/><g clip-path="url(#p05e5b74127)"><path d="M -0 3.818377  L 3.818377 0  L 0 -3.818377  L -3.818377 -0  z " style="stroke: #2ca02c; stroke-width: 0.9; stroke-linejoin: miter;fill: #2ca02c; stroke: #2ca02c; stroke-width: 0.9; stroke-linejoin: miter" transform="translate(325.668 162.347)"/><path d="M -0 3.818377  L 3.818377 0  L 0 -3.818377  L -3.818377 -0  z " style="stroke: #2ca02c; stroke-width: 0.9; stroke-linejoin: miter;fill: #2ca02c; stroke: #2ca02c; stroke-width: 0.9; stroke-linejoin: miter" transform="translate(348.264 158.082)"/><path d="M -0 3.818377  L 3.818377 0  L 0 -3.818377  L -3.818377 -0  z " style="stroke: #2ca02c; stroke-width: 0.9; stroke-linejoin: miter;fill: #2ca02c; stroke: #2ca02c; stroke-width: 0.9; stroke-linejoin: miter" transform="translate(370.86 154.35)"/><path d="M -0 3.818377  L 3.818377 0  L 0 -3.818377  L -3.818377 -0  z " style="stroke: #2ca02c; stroke-width: 0.9; stroke-linejoin: miter;fill: #2ca02c; stroke: #2ca02c; stroke-width: 0.9; stroke-linejoin: miter" transform="translate(393.456 149.019)"/><path d="M -0 3.818377  L 3.818377 0  L 0 -3.818377  L -3.818377 -0  z " style="stroke: #2ca02c; stroke-width: 0.9; stroke-linejoin: miter;fill: #2ca02c; stroke: #2ca02c; stroke-width: 0.9; stroke-linejoin: miter" transform="translate(416.052 143.688)"/><path d="M -0 3.818377  L 3.818377 0  L 0 -3.818377  L -3.818377 -0  z " style="stroke: #2ca02c; stroke-width: 0.9; stroke-linejoin: miter;fill: #2ca02c; stroke: #2ca02c; stroke-width: 0.9; stroke-linejoin: miter" transform="translate(438.648 133.559)"/><path d="M -0 3.818377  L 3.818377 0  L 0 -3.818377  L -3.818377 -0  z " style="stroke: #2ca02c; stroke-width: 0.9; stroke-linejoin: miter;fill: #2ca02c; stroke: #2ca02c; stroke-width: 0.9; stroke-linejoin: miter" transform="translate(461.244 123.252)"/><path d="M -0 3.818377  L 3.818377 0  L 0 -3.818377  L -3.818377 -0  z " style="stroke: #2ca02c; stroke-width: 0.9; stroke-linejoin: miter;fill: #2ca02c; stroke: #2ca02c; stroke-width: 0.9; stroke-linejoin: miter" transform="translate(483.84 115.788)"/><path d="M -0 3.818377  L 3.818377 0  L 0 -3.818377  L -3.818377 -0  z " style="stroke: #2ca02c; stroke-width: 0.9; stroke-linejoin: miter;fill: #2ca02c; stroke: #2ca02c; stroke-width: 0.9; stroke-linejoin: miter" transform="translate(506.436 106.725)"/><path d="M -0 3.818377  L 3.818377 0  L 0 -3.818377  L -3.818377 -0  z " style="stroke: #2ca02c; stroke-width: 0.9; stroke-linejoin: miter;fill: #2ca02c; stroke: #2ca02c; stroke-width: 0.9; stroke-linejoin: miter" transform="translate(529.032 102.105)"/></g></g><g id="line2d_30"><path d="M 325.668182 155.5939  L 348.264141 149.729651  L 370.860101 144.22081  L 393.456061 137.468037  L 416.05202 132.670015  L 438.64798 126.450356  L 461.243939 114.899561  L 483.839899 105.836629  L 506.435859 105.836629  L 529.031818 105.836629  " clip-path="url(#p05e5b74127)" style="fill: none; stroke: #d62728; stroke-width: 1.35; stroke-linecap: square"/><g clip-path="url(#p05e5b74127)"><path d="M 0 -2.7  L -2.7 2.7  L 2.7 2.7  z " style="stroke: #d62728; stroke-width: 0.9; stroke-linejoin: miter;fill: #d62728; stroke: #d62728; stroke-width: 0.9; stroke-linejoin: miter" transform="translate(325.668 155.594)"/><path d="M 0 -2.7  L -2.7 2.7  L 2.7 2.7  z " style="stroke: #d62728; stroke-width: 0.9; stroke-linejoin: miter;fill: #d62728; stroke: #d62728; stroke-width: 0.9; stroke-linejoin: miter" transform="translate(348.264 149.73)"/><path d="M 0 -2.7  L -2.7 2.7  L 2.7 2.7  z " style="stroke: #d62728; stroke-width: 0.9; stroke-linejoin: miter;fill: #d62728; stroke: #d62728; stroke-width: 0.9; stroke-linejoin: miter" transform="translate(370.86 144.221)"/><path d="M 0 -2.7  L -2.7 2.7  L 2.7 2.7  z " style="stroke: #d62728; stroke-width: 0.9; stroke-linejoin: miter;fill: #d62728; stroke: #d62728; stroke-width: 0.9; stroke-linejoin: miter" transform="translate(393.456 137.468)"/><path d="M 0 -2.7  L -2.7 2.7  L 2.7 2.7  z " style="stroke: #d62728; stroke-width: 0.9; stroke-linejoin: miter;fill: #d62728; stroke: #d62728; stroke-width: 0.9; stroke-linejoin: miter" transform="translate(416.052 132.67)"/><path d="M 0 -2.7  L -2.7 2.7  L 2.7 2.7  z " style="stroke: #d62728; stroke-width: 0.9; stroke-linejoin: miter;fill: #d62728; stroke: #d62728; stroke-width: 0.9; stroke-linejoin: miter" transform="translate(438.648 126.45)"/><path d="M 0 -2.7  L -2.7 2.7  L 2.7 2.7  z " style="stroke: #d62728; stroke-width: 0.9; stroke-linejoin: miter;fill: #d62728; stroke: #d62728; stroke-width: 0.9; stroke-linejoin: miter" transform="translate(461.244 114.9)"/><path d="M 0 -2.7  L -2.7 2.7  L 2.7 2.7  z " style="stroke: #d62728; stroke-width: 0.9; stroke-linejoin: miter;fill: #d62728; stroke: #d62728; stroke-width: 0.9; stroke-linejoin: miter" transform="translate(483.84 105.837)"/><path d="M 0 -2.7  L -2.7 2.7  L 2.7 2.7  z " style="stroke: #d62728; stroke-width: 0.9; stroke-linejoin: miter;fill: #d62728; stroke: #d62728; stroke-width: 0.9; stroke-linejoin: miter" transform="translate(506.436 105.837)"/><path d="M 0 -2.7  L -2.7 2.7  L 2.7 2.7  z " style="stroke: #d62728; stroke-width: 0.9; stroke-linejoin: miter;fill: #d62728; stroke: #d62728; stroke-width: 0.9; stroke-linejoin: miter" transform="translate(529.032 105.837)"/></g></g><g id="line2d_31"><path d="M 325.668182 134.802469  L 348.264141 108.502197  L 370.860101 103.171061  L 393.456061 98.373038  L 416.05202 93.041902  L 438.64798 87.88847  L 461.243939 80.247175  L 483.839899 72.072766  L 506.435859 72.072766  L 529.031818 72.072766  " clip-path="url(#p05e5b74127)" style="fill: none; stroke: #9467bd; stroke-width: 1.35; stroke-linecap: square"/><g clip-path="url(#p05e5b74127)"><path d="M -0 2.7  L 2.7 -2.7  L -2.7 -2.7  z " style="stroke: #9467bd; stroke-width: 0.9; stroke-linejoin: miter;fill: #9467bd; stroke: #9467bd; stroke-width: 0.9; stroke-linejoin: miter" transform="translate(325.668 134.802)"/><path d="M -0 2.7  L 2.7 -2.7  L -2.7 -2.7  z " style="stroke: #9467bd; stroke-width: 0.9; stroke-linejoin: miter;fill: #9467bd; stroke: #9467bd; stroke-width: 0.9; stroke-linejoin: miter" transform="translate(348.264 108.502)"/><path d="M -0 2.7  L 2.7 -2.7  L -2.7 -2.7  z " style="stroke: #9467bd; stroke-width: 0.9; stroke-linejoin: miter;fill: #9467bd; stroke: #9467bd; stroke-width: 0.9; stroke-linejoin: miter" transform="translate(370.86 103.171)"/><path d="M -0 2.7  L 2.7 -2.7  L -2.7 -2.7  z " style="stroke: #9467bd; stroke-width: 0.9; stroke-linejoin: miter;fill: #9467bd; stroke: #9467bd; stroke-width: 0.9; stroke-linejoin: miter" transform="translate(393.456 98.373)"/><path d="M -0 2.7  L 2.7 -2.7  L -2.7 -2.7  z " style="stroke: #9467bd; stroke-width: 0.9; stroke-linejoin: miter;fill: #9467bd; stroke: #9467bd; stroke-width: 0.9; stroke-linejoin: miter" transform="translate(416.052 93.042)"/><path d="M -0 2.7  L 2.7 -2.7  L -2.7 -2.7  z " style="stroke: #9467bd; stroke-width: 0.9; stroke-linejoin: miter;fill: #9467bd; stroke: #9467bd; stroke-width: 0.9; stroke-linejoin: miter" transform="translate(438.648 87.888)"/><path d="M -0 2.7  L 2.7 -2.7  L -2.7 -2.7  z " style="stroke: #9467bd; stroke-width: 0.9; stroke-linejoin: miter;fill: #9467bd; stroke: #9467bd; stroke-width: 0.9; stroke-linejoin: miter" transform="translate(461.244 80.247)"/><path d="M -0 2.7  L 2.7 -2.7  L -2.7 -2.7  z " style="stroke: #9467bd; stroke-width: 0.9; stroke-linejoin: miter;fill: #9467bd; stroke: #9467bd; stroke-width: 0.9; stroke-linejoin: miter" transform="translate(483.84 72.073)"/><path d="M -0 2.7  L 2.7 -2.7  L -2.7 -2.7  z " style="stroke: #9467bd; stroke-width: 0.9; stroke-linejoin: miter;fill: #9467bd; stroke: #9467bd; stroke-width: 0.9; stroke-linejoin: miter" transform="translate(506.436 72.073)"/><path d="M -0 2.7  L 2.7 -2.7  L -2.7 -2.7  z " style="stroke: #9467bd; stroke-width: 0.9; stroke-linejoin: miter;fill: #9467bd; stroke: #9467bd; stroke-width: 0.9; stroke-linejoin: miter" transform="translate(529.032 72.073)"/></g></g><g id="patch_8"><path d="M 315.5 170.45  L 315.5 0.6  " style="fill: none; stroke: #000000; stroke-linejoin: miter; stroke-linecap: square"/></g><g id="patch_9"><path d="M 539.2 170.45  L 539.2 0.6  " style="fill: none; stroke: #000000; stroke-linejoin: miter; stroke-linecap: square"/></g><g id="patch_10"><path d="M 315.5 170.45  L 539.2 170.45  " style="fill: none; stroke: #000000; stroke-linejoin: miter; stroke-linecap: square"/></g><g id="patch_11"><path d="M 315.5 0.6  L 539.2 0.6  " style="fill: none; stroke: #000000; stroke-linejoin: miter; stroke-linecap: square"/></g></g><g id="axes_3"><g id="patch_12"><path d="M 36 383  L 259.5 383  L 259.5 213.3  L 36 213.3  z " style="fill: #ffffff"/></g><g id="matplotlib.axis_5"><g id="xtick_11"><g id="line2d_32"><g><path d="M 0 0  L 0 3.1  " style="stroke: #000000; stroke-width: 0.9;stroke: #000000; stroke-width: 0.9" transform="translate(68.735 383)"/></g></g><g id="text_26"><text style="font-size:9.345px;font-family:&quot;Liberation Sans&quot;, sans-serif;text-anchor:middle" x="68.735" y="395.463" textLength="16.988" lengthAdjust="spacingAndGlyphs">200</text></g></g><g id="xtick_12"><g id="line2d_33"><g><path d="M 0 0  L 0 3.1  " style="stroke: #000000; stroke-width: 0.9;stroke: #000000; stroke-width: 0.9" transform="translate(113.886 383)"/></g></g><g id="text_27"><text style="font-size:9.345px;font-family:&quot;Liberation Sans&quot;, sans-serif;text-anchor:middle" x="113.886" y="395.463" textLength="16.988" lengthAdjust="spacingAndGlyphs">400</text></g></g><g id="xtick_13"><g id="line2d_34"><g><path d="M 0 0  L 0 3.1  " style="stroke: #000000; stroke-width: 0.9;stroke: #000000; stroke-width: 0.9" transform="translate(159.038 383)"/></g></g><g id="text_28"><text style="font-size:9.345px;font-family:&quot;Liberation Sans&quot;, sans-serif;text-anchor:middle" x="159.038" y="395.463" textLength="16.988" lengthAdjust="spacingAndGlyphs">600</text></g></g><g id="xtick_14"><g id="line2d_35"><g><path d="M 0 0  L 0 3.1  " style="stroke: #000000; stroke-width: 0.9;stroke: #000000; stroke-width: 0.9" transform="translate(204.189 383)"/></g></g><g id="text_29"><text style="font-size:9.345px;font-family:&quot;Liberation Sans&quot;, sans-serif;text-anchor:middle" x="204.189" y="395.463" textLength="16.988" lengthAdjust="spacingAndGlyphs">800</text></g></g><g id="xtick_15"><g id="line2d_36"><g><path d="M 0 0  L 0 3.1  " style="stroke: #000000; stroke-width: 0.9;stroke: #000000; stroke-width: 0.9" transform="translate(249.341 383)"/></g></g><g id="text_30"><text style="font-size:9.345px;font-family:&quot;Liberation Sans&quot;, sans-serif;text-anchor:middle" x="249.341" y="395.463" textLength="22.651" lengthAdjust="spacingAndGlyphs">1000</text></g></g><g id="text_31" transform="translate(0 0.9) "><g transform="translate(101.55 408.993531)"><circle cx="78.367" cy="-7.182" r="0.911" style="fill:none;stroke:#000;stroke-width:0.456"/><text x="0" y="-0.656" style="font-size:11.025px;font-family:&quot;Liberation Sans&quot;, sans-serif" textLength="75.961" lengthAdjust="spacingAndGlyphs" xml:space="preserve">Temperature (</text><text x="88.299" y="-0.656" style="font-size:11.025px;font-family:&quot;Liberation Sans&quot;, sans-serif" textLength="4.096" lengthAdjust="spacingAndGlyphs" xml:space="preserve">)</text><text x="80.968" y="-0.656" style="font-size:11.025px;font-family:&quot;Liberation Sans&quot;, sans-serif;font-style:italic" textLength="7.332" lengthAdjust="spacingAndGlyphs" xml:space="preserve">C</text></g></g></g><g id="matplotlib.axis_6"><g id="ytick_12"><g id="line2d_37"><g><path d="M 0 0  L -3.1 0  " style="stroke: #000000; stroke-width: 0.9;stroke: #000000; stroke-width: 0.9" transform="translate(36 368.447)"/></g></g><g id="text_32"><text style="font-size:9.345px;font-family:&quot;Liberation Sans&quot;, sans-serif;text-anchor:end" x="30.2" y="371.929" textLength="16.988" lengthAdjust="spacingAndGlyphs">120</text></g></g><g id="ytick_13"><g id="line2d_38"><g><path d="M 0 0  L -3.1 0  " style="stroke: #000000; stroke-width: 0.9;stroke: #000000; stroke-width: 0.9" transform="translate(36 333.211)"/></g></g><g id="text_33"><text style="font-size:9.345px;font-family:&quot;Liberation Sans&quot;, sans-serif;text-anchor:end" x="30.2" y="336.692" textLength="16.988" lengthAdjust="spacingAndGlyphs">140</text></g></g><g id="ytick_14"><g id="line2d_39"><g><path d="M 0 0  L -3.1 0  " style="stroke: #000000; stroke-width: 0.9;stroke: #000000; stroke-width: 0.9" transform="translate(36 297.974)"/></g></g><g id="text_34"><text style="font-size:9.345px;font-family:&quot;Liberation Sans&quot;, sans-serif;text-anchor:end" x="30.2" y="301.455" textLength="16.988" lengthAdjust="spacingAndGlyphs">160</text></g></g><g id="ytick_15"><g id="line2d_40"><g><path d="M 0 0  L -3.1 0  " style="stroke: #000000; stroke-width: 0.9;stroke: #000000; stroke-width: 0.9" transform="translate(36 262.737)"/></g></g><g id="text_35"><text style="font-size:9.345px;font-family:&quot;Liberation Sans&quot;, sans-serif;text-anchor:end" x="30.2" y="266.218" textLength="16.988" lengthAdjust="spacingAndGlyphs">180</text></g></g><g id="ytick_16"><g id="line2d_41"><g><path d="M 0 0  L -3.1 0  " style="stroke: #000000; stroke-width: 0.9;stroke: #000000; stroke-width: 0.9" transform="translate(36 227.5)"/></g></g><g id="text_36"><text style="font-size:9.345px;font-family:&quot;Liberation Sans&quot;, sans-serif;text-anchor:end" x="30.2" y="230.982" textLength="16.988" lengthAdjust="spacingAndGlyphs">200</text></g></g><g id="text_37" transform="translate(1.0 -0.2) "><text style="font-size:11.025px;font-family:&quot;Liberation Sans&quot;, sans-serif;text-anchor:middle" x="7.428453" y="298.15" transform="rotate(-90 7.428453 298.15)" textLength="118.919" lengthAdjust="spacingAndGlyphs">Young's Modulus (GPa)</text></g></g><g id="line2d_42"><path d="M 46.159091 232.433534  L 68.734848 246.880586  L 91.310606 259.213434  L 113.886364 276.127056  L 136.462121 291.807392  L 159.037879 306.606811  L 181.613636 322.639514  L 204.189394 340.081686  L 226.765152 357.523858  L 249.340909 375.247924  " clip-path="url(#pfe1ac569b4)" style="fill: none; stroke: #1f77b4; stroke-width: 1.35; stroke-linecap: square"/><g clip-path="url(#pfe1ac569b4)"><path d="M 0 2.7  C 0.716048 2.7 1.402866 2.415511 1.909188 1.909188  C 2.415511 1.402866 2.7 0.716048 2.7 0  C 2.7 -0.716048 2.415511 -1.402866 1.909188 -1.909188  C 1.402866 -2.415511 0.716048 -2.7 0 -2.7  C -0.716048 -2.7 -1.402866 -2.415511 -1.909188 -1.909188  C -2.415511 -1.402866 -2.7 -0.716048 -2.7 0  C -2.7 0.716048 -2.415511 1.402866 -1.909188 1.909188  C -1.402866 2.415511 -0.716048 2.7 0 2.7  z " style="stroke: #1f77b4; stroke-width: 0.9;fill: #1f77b4; stroke: #1f77b4; stroke-width: 0.9" transform="translate(46.159 232.434)"/><path d="M 0 2.7  C 0.716048 2.7 1.402866 2.415511 1.909188 1.909188  C 2.415511 1.402866 2.7 0.716048 2.7 0  C 2.7 -0.716048 2.415511 -1.402866 1.909188 -1.909188  C 1.402866 -2.415511 0.716048 -2.7 0 -2.7  C -0.716048 -2.7 -1.402866 -2.415511 -1.909188 -1.909188  C -2.415511 -1.402866 -2.7 -0.716048 -2.7 0  C -2.7 0.716048 -2.415511 1.402866 -1.909188 1.909188  C -1.402866 2.415511 -0.716048 2.7 0 2.7  z " style="stroke: #1f77b4; stroke-width: 0.9;fill: #1f77b4; stroke: #1f77b4; stroke-width: 0.9" transform="translate(68.735 246.881)"/><path d="M 0 2.7  C 0.716048 2.7 1.402866 2.415511 1.909188 1.909188  C 2.415511 1.402866 2.7 0.716048 2.7 0  C 2.7 -0.716048 2.415511 -1.402866 1.909188 -1.909188  C 1.402866 -2.415511 0.716048 -2.7 0 -2.7  C -0.716048 -2.7 -1.402866 -2.415511 -1.909188 -1.909188  C -2.415511 -1.402866 -2.7 -0.716048 -2.7 0  C -2.7 0.716048 -2.415511 1.402866 -1.909188 1.909188  C -1.402866 2.415511 -0.716048 2.7 0 2.7  z " style="stroke: #1f77b4; stroke-width: 0.9;fill: #1f77b4; stroke: #1f77b4; stroke-width: 0.9" transform="translate(91.311 259.213)"/><path d="M 0 2.7  C 0.716048 2.7 1.402866 2.415511 1.909188 1.909188  C 2.415511 1.402866 2.7 0.716048 2.7 0  C 2.7 -0.716048 2.415511 -1.402866 1.909188 -1.909188  C 1.402866 -2.415511 0.716048 -2.7 0 -2.7  C -0.716048 -2.7 -1.402866 -2.415511 -1.909188 -1.909188  C -2.415511 -1.402866 -2.7 -0.716048 -2.7 0  C -2.7 0.716048 -2.415511 1.402866 -1.909188 1.909188  C -1.402866 2.415511 -0.716048 2.7 0 2.7  z " style="stroke: #1f77b4; stroke-width: 0.9;fill: #1f77b4; stroke: #1f77b4; stroke-width: 0.9" transform="translate(113.886 276.127)"/><path d="M 0 2.7  C 0.716048 2.7 1.402866 2.415511 1.909188 1.909188  C 2.415511 1.402866 2.7 0.716048 2.7 0  C 2.7 -0.716048 2.415511 -1.402866 1.909188 -1.909188  C 1.402866 -2.415511 0.716048 -2.7 0 -2.7  C -0.716048 -2.7 -1.402866 -2.415511 -1.909188 -1.909188  C -2.415511 -1.402866 -2.7 -0.716048 -2.7 0  C -2.7 0.716048 -2.415511 1.402866 -1.909188 1.909188  C -1.402866 2.415511 -0.716048 2.7 0 2.7  z " style="stroke: #1f77b4; stroke-width: 0.9;fill: #1f77b4; stroke: #1f77b4; stroke-width: 0.9" transform="translate(136.462 291.807)"/><path d="M 0 2.7  C 0.716048 2.7 1.402866 2.415511 1.909188 1.909188  C 2.415511 1.402866 2.7 0.716048 2.7 0  C 2.7 -0.716048 2.415511 -1.402866 1.909188 -1.909188  C 1.402866 -2.415511 0.716048 -2.7 0 -2.7  C -0.716048 -2.7 -1.402866 -2.415511 -1.909188 -1.909188  C -2.415511 -1.402866 -2.7 -0.716048 -2.7 0  C -2.7 0.716048 -2.415511 1.402866 -1.909188 1.909188  C -1.402866 2.415511 -0.716048 2.7 0 2.7  z " style="stroke: #1f77b4; stroke-width: 0.9;fill: #1f77b4; stroke: #1f77b4; stroke-width: 0.9" transform="translate(159.038 306.607)"/><path d="M 0 2.7  C 0.716048 2.7 1.402866 2.415511 1.909188 1.909188  C 2.415511 1.402866 2.7 0.716048 2.7 0  C 2.7 -0.716048 2.415511 -1.402866 1.909188 -1.909188  C 1.402866 -2.415511 0.716048 -2.7 0 -2.7  C -0.716048 -2.7 -1.402866 -2.415511 -1.909188 -1.909188  C -2.415511 -1.402866 -2.7 -0.716048 -2.7 0  C -2.7 0.716048 -2.415511 1.402866 -1.909188 1.909188  C -1.402866 2.415511 -0.716048 2.7 0 2.7  z " style="stroke: #1f77b4; stroke-width: 0.9;fill: #1f77b4; stroke: #1f77b4; stroke-width: 0.9" transform="translate(181.614 322.64)"/><path d="M 0 2.7  C 0.716048 2.7 1.402866 2.415511 1.909188 1.909188  C 2.415511 1.402866 2.7 0.716048 2.7 0  C 2.7 -0.716048 2.415511 -1.402866 1.909188 -1.909188  C 1.402866 -2.415511 0.716048 -2.7 0 -2.7  C -0.716048 -2.7 -1.402866 -2.415511 -1.909188 -1.909188  C -2.415511 -1.402866 -2.7 -0.716048 -2.7 0  C -2.7 0.716048 -2.415511 1.402866 -1.909188 1.909188  C -1.402866 2.415511 -0.716048 2.7 0 2.7  z " style="stroke: #1f77b4; stroke-width: 0.9;fill: #1f77b4; stroke: #1f77b4; stroke-width: 0.9" transform="translate(204.189 340.082)"/><path d="M 0 2.7  C 0.716048 2.7 1.402866 2.415511 1.909188 1.909188  C 2.415511 1.402866 2.7 0.716048 2.7 0  C 2.7 -0.716048 2.415511 -1.402866 1.909188 -1.909188  C 1.402866 -2.415511 0.716048 -2.7 0 -2.7  C -0.716048 -2.7 -1.402866 -2.415511 -1.909188 -1.909188  C -2.415511 -1.402866 -2.7 -0.716048 -2.7 0  C -2.7 0.716048 -2.415511 1.402866 -1.909188 1.909188  C -1.402866 2.415511 -0.716048 2.7 0 2.7  z " style="stroke: #1f77b4; stroke-width: 0.9;fill: #1f77b4; stroke: #1f77b4; stroke-width: 0.9" transform="translate(226.765 357.524)"/><path d="M 0 2.7  C 0.716048 2.7 1.402866 2.415511 1.909188 1.909188  C 2.415511 1.402866 2.7 0.716048 2.7 0  C 2.7 -0.716048 2.415511 -1.402866 1.909188 -1.909188  C 1.402866 -2.415511 0.716048 -2.7 0 -2.7  C -0.716048 -2.7 -1.402866 -2.415511 -1.909188 -1.909188  C -2.415511 -1.402866 -2.7 -0.716048 -2.7 0  C -2.7 0.716048 -2.415511 1.402866 -1.909188 1.909188  C -1.402866 2.415511 -0.716048 2.7 0 2.7  z " style="stroke: #1f77b4; stroke-width: 0.9;fill: #1f77b4; stroke: #1f77b4; stroke-width: 0.9" transform="translate(249.341 375.248)"/></g></g><g id="line2d_43"><path d="M 46.159091 227.324211  L 68.734848 235.957205  L 91.310606 245.294934  L 113.886364 257.099232  L 136.462121 268.022612  L 159.037879 281.764929  L 181.613636 297.973816  L 204.189394 316.47309  L 226.765152 340.081686  L 249.340909 363.514099  " clip-path="url(#pfe1ac569b4)" style="fill: none; stroke: #ff7f0e; stroke-width: 1.35; stroke-linecap: square"/><g clip-path="url(#pfe1ac569b4)"><path d="M -2.7 2.7  L 2.7 2.7  L 2.7 -2.7  L -2.7 -2.7  z " style="stroke: #ff7f0e; stroke-width: 0.9; stroke-linejoin: miter;fill: #ff7f0e; stroke: #ff7f0e; stroke-width: 0.9; stroke-linejoin: miter" transform="translate(46.159 227.324)"/><path d="M -2.7 2.7  L 2.7 2.7  L 2.7 -2.7  L -2.7 -2.7  z " style="stroke: #ff7f0e; stroke-width: 0.9; stroke-linejoin: miter;fill: #ff7f0e; stroke: #ff7f0e; stroke-width: 0.9; stroke-linejoin: miter" transform="translate(68.735 235.957)"/><path d="M -2.7 2.7  L 2.7 2.7  L 2.7 -2.7  L -2.7 -2.7  z " style="stroke: #ff7f0e; stroke-width: 0.9; stroke-linejoin: miter;fill: #ff7f0e; stroke: #ff7f0e; stroke-width: 0.9; stroke-linejoin: miter" transform="translate(91.311 245.295)"/><path d="M -2.7 2.7  L 2.7 2.7  L 2.7 -2.7  L -2.7 -2.7  z " style="stroke: #ff7f0e; stroke-width: 0.9; stroke-linejoin: miter;fill: #ff7f0e; stroke: #ff7f0e; stroke-width: 0.9; stroke-linejoin: miter" transform="translate(113.886 257.099)"/><path d="M -2.7 2.7  L 2.7 2.7  L 2.7 -2.7  L -2.7 -2.7  z " style="stroke: #ff7f0e; stroke-width: 0.9; stroke-linejoin: miter;fill: #ff7f0e; stroke: #ff7f0e; stroke-width: 0.9; stroke-linejoin: miter" transform="translate(136.462 268.023)"/><path d="M -2.7 2.7  L 2.7 2.7  L 2.7 -2.7  L -2.7 -2.7  z " style="stroke: #ff7f0e; stroke-width: 0.9; stroke-linejoin: miter;fill: #ff7f0e; stroke: #ff7f0e; stroke-width: 0.9; stroke-linejoin: miter" transform="translate(159.038 281.765)"/><path d="M -2.7 2.7  L 2.7 2.7  L 2.7 -2.7  L -2.7 -2.7  z " style="stroke: #ff7f0e; stroke-width: 0.9; stroke-linejoin: miter;fill: #ff7f0e; stroke: #ff7f0e; stroke-width: 0.9; stroke-linejoin: miter" transform="translate(181.614 297.974)"/><path d="M -2.7 2.7  L 2.7 2.7  L 2.7 -2.7  L -2.7 -2.7  z " style="stroke: #ff7f0e; stroke-width: 0.9; stroke-linejoin: miter;fill: #ff7f0e; stroke: #ff7f0e; stroke-width: 0.9; stroke-linejoin: miter" transform="translate(204.189 316.473)"/><path d="M -2.7 2.7  L 2.7 2.7  L 2.7 -2.7  L -2.7 -2.7  z " style="stroke: #ff7f0e; stroke-width: 0.9; stroke-linejoin: miter;fill: #ff7f0e; stroke: #ff7f0e; stroke-width: 0.9; stroke-linejoin: miter" transform="translate(226.765 340.082)"/><path d="M -2.7 2.7  L 2.7 2.7  L 2.7 -2.7  L -2.7 -2.7  z " style="stroke: #ff7f0e; stroke-width: 0.9; stroke-linejoin: miter;fill: #ff7f0e; stroke: #ff7f0e; stroke-width: 0.9; stroke-linejoin: miter" transform="translate(249.341 363.514)"/></g></g><g id="line2d_44"><path d="M 46.159091 220.805419  L 68.734848 230.319331  L 91.310606 240.18561  L 113.886364 250.05189  L 136.462121 260.622903  L 159.037879 273.308119  L 181.613636 287.22662  L 204.189394 305.021159  L 226.765152 326.163185  L 249.340909 346.600478  " clip-path="url(#pfe1ac569b4)" style="fill: none; stroke: #2ca02c; stroke-width: 1.35; stroke-linecap: square"/><g clip-path="url(#pfe1ac569b4)"><path d="M -0 3.818377  L 3.818377 0  L 0 -3.818377  L -3.818377 -0  z " style="stroke: #2ca02c; stroke-width: 0.9; stroke-linejoin: miter;fill: #2ca02c; stroke: #2ca02c; stroke-width: 0.9; stroke-linejoin: miter" transform="translate(46.159 220.805)"/><path d="M -0 3.818377  L 3.818377 0  L 0 -3.818377  L -3.818377 -0  z " style="stroke: #2ca02c; stroke-width: 0.9; stroke-linejoin: miter;fill: #2ca02c; stroke: #2ca02c; stroke-width: 0.9; stroke-linejoin: miter" transform="translate(68.735 230.319)"/><path d="M -0 3.818377  L 3.818377 0  L 0 -3.818377  L -3.818377 -0  z " style="stroke: #2ca02c; stroke-width: 0.9; stroke-linejoin: miter;fill: #2ca02c; stroke: #2ca02c; stroke-width: 0.9; stroke-linejoin: miter" transform="translate(91.311 240.186)"/><path d="M -0 3.818377  L 3.818377 0  L 0 -3.818377  L -3.818377 -0  z " style="stroke: #2ca02c; stroke-width: 0.9; stroke-linejoin: miter;fill: #2ca02c; stroke: #2ca02c; stroke-width: 0.9; stroke-linejoin: miter" transform="translate(113.886 250.052)"/><path d="M -0 3.818377  L 3.818377 0  L 0 -3.818377  L -3.818377 -0  z " style="stroke: #2ca02c; stroke-width: 0.9; stroke-linejoin: miter;fill: #2ca02c; stroke: #2ca02c; stroke-width: 0.9; stroke-linejoin: miter" transform="translate(136.462 260.623)"/><path d="M -0 3.818377  L 3.818377 0  L 0 -3.818377  L -3.818377 -0  z " style="stroke: #2ca02c; stroke-width: 0.9; stroke-linejoin: miter;fill: #2ca02c; stroke: #2ca02c; stroke-width: 0.9; stroke-linejoin: miter" transform="translate(159.038 273.308)"/><path d="M -0 3.818377  L 3.818377 0  L 0 -3.818377  L -3.818377 -0  z " style="stroke: #2ca02c; stroke-width: 0.9; stroke-linejoin: miter;fill: #2ca02c; stroke: #2ca02c; stroke-width: 0.9; stroke-linejoin: miter" transform="translate(181.614 287.227)"/><path d="M -0 3.818377  L 3.818377 0  L 0 -3.818377  L -3.818377 -0  z " style="stroke: #2ca02c; stroke-width: 0.9; stroke-linejoin: miter;fill: #2ca02c; stroke: #2ca02c; stroke-width: 0.9; stroke-linejoin: miter" transform="translate(204.189 305.021)"/><path d="M -0 3.818377  L 3.818377 0  L 0 -3.818377  L -3.818377 -0  z " style="stroke: #2ca02c; stroke-width: 0.9; stroke-linejoin: miter;fill: #2ca02c; stroke: #2ca02c; stroke-width: 0.9; stroke-linejoin: miter" transform="translate(226.765 326.163)"/><path d="M -0 3.818377  L 3.818377 0  L 0 -3.818377  L -3.818377 -0  z " style="stroke: #2ca02c; stroke-width: 0.9; stroke-linejoin: miter;fill: #2ca02c; stroke: #2ca02c; stroke-width: 0.9; stroke-linejoin: miter" transform="translate(249.341 346.6)"/></g></g><g id="line2d_45"><path d="M 46.159091 234.547737  L 68.734848 244.766383  L 91.310606 254.280295  L 113.886364 264.322757  L 136.462121 274.893771  L 159.037879 286.345702  L 181.613636 300.264203  L 204.189394 317.354007  L 226.765152 342.372072  L 249.340909 373.732745  " clip-path="url(#pfe1ac569b4)" style="fill: none; stroke: #d62728; stroke-width: 1.35; stroke-linecap: square"/><g clip-path="url(#pfe1ac569b4)"><path d="M 0 -2.7  L -2.7 2.7  L 2.7 2.7  z " style="stroke: #d62728; stroke-width: 0.9; stroke-linejoin: miter;fill: #d62728; stroke: #d62728; stroke-width: 0.9; stroke-linejoin: miter" transform="translate(46.159 234.548)"/><path d="M 0 -2.7  L -2.7 2.7  L 2.7 2.7  z " style="stroke: #d62728; stroke-width: 0.9; stroke-linejoin: miter;fill: #d62728; stroke: #d62728; stroke-width: 0.9; stroke-linejoin: miter" transform="translate(68.735 244.766)"/><path d="M 0 -2.7  L -2.7 2.7  L 2.7 2.7  z " style="stroke: #d62728; stroke-width: 0.9; stroke-linejoin: miter;fill: #d62728; stroke: #d62728; stroke-width: 0.9; stroke-linejoin: miter" transform="translate(91.311 254.28)"/><path d="M 0 -2.7  L -2.7 2.7  L 2.7 2.7  z " style="stroke: #d62728; stroke-width: 0.9; stroke-linejoin: miter;fill: #d62728; stroke: #d62728; stroke-width: 0.9; stroke-linejoin: miter" transform="translate(113.886 264.323)"/><path d="M 0 -2.7  L -2.7 2.7  L 2.7 2.7  z " style="stroke: #d62728; stroke-width: 0.9; stroke-linejoin: miter;fill: #d62728; stroke: #d62728; stroke-width: 0.9; stroke-linejoin: miter" transform="translate(136.462 274.894)"/><path d="M 0 -2.7  L -2.7 2.7  L 2.7 2.7  z " style="stroke: #d62728; stroke-width: 0.9; stroke-linejoin: miter;fill: #d62728; stroke: #d62728; stroke-width: 0.9; stroke-linejoin: miter" transform="translate(159.038 286.346)"/><path d="M 0 -2.7  L -2.7 2.7  L 2.7 2.7  z " style="stroke: #d62728; stroke-width: 0.9; stroke-linejoin: miter;fill: #d62728; stroke: #d62728; stroke-width: 0.9; stroke-linejoin: miter" transform="translate(181.614 300.264)"/><path d="M 0 -2.7  L -2.7 2.7  L 2.7 2.7  z " style="stroke: #d62728; stroke-width: 0.9; stroke-linejoin: miter;fill: #d62728; stroke: #d62728; stroke-width: 0.9; stroke-linejoin: miter" transform="translate(204.189 317.354)"/><path d="M 0 -2.7  L -2.7 2.7  L 2.7 2.7  z " style="stroke: #d62728; stroke-width: 0.9; stroke-linejoin: miter;fill: #d62728; stroke: #d62728; stroke-width: 0.9; stroke-linejoin: miter" transform="translate(226.765 342.372)"/><path d="M 0 -2.7  L -2.7 2.7  L 2.7 2.7  z " style="stroke: #d62728; stroke-width: 0.9; stroke-linejoin: miter;fill: #d62728; stroke: #d62728; stroke-width: 0.9; stroke-linejoin: miter" transform="translate(249.341 373.733)"/></g></g><g id="line2d_46"><path d="M 46.159091 243.533098  L 68.734848 254.808846  L 91.310606 266.260777  L 113.886364 277.360341  L 136.462121 288.988455  L 159.037879 302.026038  L 181.613636 316.47309  L 204.189394 330.920141  L 226.765152 346.424294  L 249.340909 362.10463  " clip-path="url(#pfe1ac569b4)" style="fill: none; stroke: #9467bd; stroke-width: 1.35; stroke-linecap: square"/><g clip-path="url(#pfe1ac569b4)"><path d="M -0 2.7  L 2.7 -2.7  L -2.7 -2.7  z " style="stroke: #9467bd; stroke-width: 0.9; stroke-linejoin: miter;fill: #9467bd; stroke: #9467bd; stroke-width: 0.9; stroke-linejoin: miter" transform="translate(46.159 243.533)"/><path d="M -0 2.7  L 2.7 -2.7  L -2.7 -2.7  z " style="stroke: #9467bd; stroke-width: 0.9; stroke-linejoin: miter;fill: #9467bd; stroke: #9467bd; stroke-width: 0.9; stroke-linejoin: miter" transform="translate(68.735 254.809)"/><path d="M -0 2.7  L 2.7 -2.7  L -2.7 -2.7  z " style="stroke: #9467bd; stroke-width: 0.9; stroke-linejoin: miter;fill: #9467bd; stroke: #9467bd; stroke-width: 0.9; stroke-linejoin: miter" transform="translate(91.311 266.261)"/><path d="M -0 2.7  L 2.7 -2.7  L -2.7 -2.7  z " style="stroke: #9467bd; stroke-width: 0.9; stroke-linejoin: miter;fill: #9467bd; stroke: #9467bd; stroke-width: 0.9; stroke-linejoin: miter" transform="translate(113.886 277.36)"/><path d="M -0 2.7  L 2.7 -2.7  L -2.7 -2.7  z " style="stroke: #9467bd; stroke-width: 0.9; stroke-linejoin: miter;fill: #9467bd; stroke: #9467bd; stroke-width: 0.9; stroke-linejoin: miter" transform="translate(136.462 288.988)"/><path d="M -0 2.7  L 2.7 -2.7  L -2.7 -2.7  z " style="stroke: #9467bd; stroke-width: 0.9; stroke-linejoin: miter;fill: #9467bd; stroke: #9467bd; stroke-width: 0.9; stroke-linejoin: miter" transform="translate(159.038 302.026)"/><path d="M -0 2.7  L 2.7 -2.7  L -2.7 -2.7  z " style="stroke: #9467bd; stroke-width: 0.9; stroke-linejoin: miter;fill: #9467bd; stroke: #9467bd; stroke-width: 0.9; stroke-linejoin: miter" transform="translate(181.614 316.473)"/><path d="M -0 2.7  L 2.7 -2.7  L -2.7 -2.7  z " style="stroke: #9467bd; stroke-width: 0.9; stroke-linejoin: miter;fill: #9467bd; stroke: #9467bd; stroke-width: 0.9; stroke-linejoin: miter" transform="translate(204.189 330.92)"/><path d="M -0 2.7  L 2.7 -2.7  L -2.7 -2.7  z " style="stroke: #9467bd; stroke-width: 0.9; stroke-linejoin: miter;fill: #9467bd; stroke: #9467bd; stroke-width: 0.9; stroke-linejoin: miter" transform="translate(226.765 346.424)"/><path d="M -0 2.7  L 2.7 -2.7  L -2.7 -2.7  z " style="stroke: #9467bd; stroke-width: 0.9; stroke-linejoin: miter;fill: #9467bd; stroke: #9467bd; stroke-width: 0.9; stroke-linejoin: miter" transform="translate(249.341 362.105)"/></g></g><g id="patch_13"><path d="M 36 383  L 36 213.3  " style="fill: none; stroke: #000000; stroke-linejoin: miter; stroke-linecap: square"/></g><g id="patch_14"><path d="M 259.5 383  L 259.5 213.3  " style="fill: none; stroke: #000000; stroke-linejoin: miter; stroke-linecap: square"/></g><g id="patch_15"><path d="M 36 383  L 259.5 383  " style="fill: none; stroke: #000000; stroke-linejoin: miter; stroke-linecap: square"/></g><g id="patch_16"><path d="M 36 213.3  L 259.5 213.3  " style="fill: none; stroke: #000000; stroke-linejoin: miter; stroke-linecap: square"/></g></g><g id="axes_4"><g id="patch_17"><path d="M 315.5 383  L 539.2 383  L 539.2 213.3  L 315.5 213.3  z " style="fill: #ffffff"/></g><g id="matplotlib.axis_7"><g id="xtick_16"><g id="line2d_47"><g><path d="M 0 0  L 0 3.1  " style="stroke: #000000; stroke-width: 0.9;stroke: #000000; stroke-width: 0.9" transform="translate(348.264 383)"/></g></g><g id="text_38"><text style="font-size:9.345px;font-family:&quot;Liberation Sans&quot;, sans-serif;text-anchor:middle" x="348.264" y="395.463" textLength="16.988" lengthAdjust="spacingAndGlyphs">200</text></g></g><g id="xtick_17"><g id="line2d_48"><g><path d="M 0 0  L 0 3.1  " style="stroke: #000000; stroke-width: 0.9;stroke: #000000; stroke-width: 0.9" transform="translate(393.456 383)"/></g></g><g id="text_39"><text style="font-size:9.345px;font-family:&quot;Liberation Sans&quot;, sans-serif;text-anchor:middle" x="393.456" y="395.463" textLength="16.988" lengthAdjust="spacingAndGlyphs">400</text></g></g><g id="xtick_18"><g id="line2d_49"><g><path d="M 0 0  L 0 3.1  " style="stroke: #000000; stroke-width: 0.9;stroke: #000000; stroke-width: 0.9" transform="translate(438.648 383)"/></g></g><g id="text_40"><text style="font-size:9.345px;font-family:&quot;Liberation Sans&quot;, sans-serif;text-anchor:middle" x="438.648" y="395.463" textLength="16.988" lengthAdjust="spacingAndGlyphs">600</text></g></g><g id="xtick_19"><g id="line2d_50"><g><path d="M 0 0  L 0 3.1  " style="stroke: #000000; stroke-width: 0.9;stroke: #000000; stroke-width: 0.9" transform="translate(483.84 383)"/></g></g><g id="text_41"><text style="font-size:9.345px;font-family:&quot;Liberation Sans&quot;, sans-serif;text-anchor:middle" x="483.84" y="395.463" textLength="16.988" lengthAdjust="spacingAndGlyphs">800</text></g></g><g id="xtick_20"><g id="line2d_51"><g><path d="M 0 0  L 0 3.1  " style="stroke: #000000; stroke-width: 0.9;stroke: #000000; stroke-width: 0.9" transform="translate(529.032 383)"/></g></g><g id="text_42"><text style="font-size:9.345px;font-family:&quot;Liberation Sans&quot;, sans-serif;text-anchor:middle" x="529.032" y="395.463" textLength="22.651" lengthAdjust="spacingAndGlyphs">1000</text></g></g><g id="text_43" transform="translate(0 0.9) "><g transform="translate(381.15 408.993531)"><circle cx="78.367" cy="-7.182" r="0.911" style="fill:none;stroke:#000;stroke-width:0.456"/><text x="0" y="-0.656" style="font-size:11.025px;font-family:&quot;Liberation Sans&quot;, sans-serif" textLength="75.961" lengthAdjust="spacingAndGlyphs" xml:space="preserve">Temperature (</text><text x="88.299" y="-0.656" style="font-size:11.025px;font-family:&quot;Liberation Sans&quot;, sans-serif" textLength="4.096" lengthAdjust="spacingAndGlyphs" xml:space="preserve">)</text><text x="80.968" y="-0.656" style="font-size:11.025px;font-family:&quot;Liberation Sans&quot;, sans-serif;font-style:italic" textLength="7.332" lengthAdjust="spacingAndGlyphs" xml:space="preserve">C</text></g></g></g><g id="matplotlib.axis_8"><g id="ytick_17"><g id="line2d_52"><g><path d="M 0 0  L -3.1 0  " style="stroke: #000000; stroke-width: 0.9;stroke: #000000; stroke-width: 0.9" transform="translate(315.5 375.473)"/></g></g><g id="text_44"><text style="font-size:9.345px;font-family:&quot;Liberation Sans&quot;, sans-serif;text-anchor:end" x="309.7" y="378.955" textLength="5.663" lengthAdjust="spacingAndGlyphs">0</text></g></g><g id="ytick_18"><g id="line2d_53"><g><path d="M 0 0  L -3.1 0  " style="stroke: #000000; stroke-width: 0.9;stroke: #000000; stroke-width: 0.9" transform="translate(315.5 347.596)"/></g></g><g id="text_45"><text style="font-size:9.345px;font-family:&quot;Liberation Sans&quot;, sans-serif;text-anchor:end" x="309.7" y="351.078" textLength="16.988" lengthAdjust="spacingAndGlyphs">200</text></g></g><g id="ytick_19"><g id="line2d_54"><g><path d="M 0 0  L -3.1 0  " style="stroke: #000000; stroke-width: 0.9;stroke: #000000; stroke-width: 0.9" transform="translate(315.5 319.72)"/></g></g><g id="text_46"><text style="font-size:9.345px;font-family:&quot;Liberation Sans&quot;, sans-serif;text-anchor:end" x="309.7" y="323.201" textLength="16.988" lengthAdjust="spacingAndGlyphs">400</text></g></g><g id="ytick_20"><g id="line2d_55"><g><path d="M 0 0  L -3.1 0  " style="stroke: #000000; stroke-width: 0.9;stroke: #000000; stroke-width: 0.9" transform="translate(315.5 291.843)"/></g></g><g id="text_47"><text style="font-size:9.345px;font-family:&quot;Liberation Sans&quot;, sans-serif;text-anchor:end" x="309.7" y="295.324" textLength="16.988" lengthAdjust="spacingAndGlyphs">600</text></g></g><g id="ytick_21"><g id="line2d_56"><g><path d="M 0 0  L -3.1 0  " style="stroke: #000000; stroke-width: 0.9;stroke: #000000; stroke-width: 0.9" transform="translate(315.5 263.966)"/></g></g><g id="text_48"><text style="font-size:9.345px;font-family:&quot;Liberation Sans&quot;, sans-serif;text-anchor:end" x="309.7" y="267.447" textLength="16.988" lengthAdjust="spacingAndGlyphs">800</text></g></g><g id="ytick_22"><g id="line2d_57"><g><path d="M 0 0  L -3.1 0  " style="stroke: #000000; stroke-width: 0.9;stroke: #000000; stroke-width: 0.9" transform="translate(315.5 236.089)"/></g></g><g id="text_49"><text style="font-size:9.345px;font-family:&quot;Liberation Sans&quot;, sans-serif;text-anchor:end" x="309.7" y="239.571" textLength="22.651" lengthAdjust="spacingAndGlyphs">1000</text></g></g><g id="text_50" transform="translate(1.0 0.0) "><text style="font-size:11.025px;font-family:&quot;Liberation Sans&quot;, sans-serif;text-anchor:middle" x="281.265828" y="298.15" transform="rotate(-90 281.265828 298.15)" textLength="106.627" lengthAdjust="spacingAndGlyphs">Yield Strength (MPa)</text></g></g><g id="line2d_58"><path d="M 325.668182 340.069733  L 348.264141 341.184805  L 370.860101 343.693717  L 393.456061 346.202628  L 416.05202 348.71154  L 438.64798 351.220452  L 461.243939 354.426283  L 483.839899 358.468419  L 506.435859 364.740698  L 529.031818 374.358193  " clip-path="url(#p63959fb7f2)" style="fill: none; stroke: #1f77b4; stroke-width: 1.35; stroke-linecap: square"/><g clip-path="url(#p63959fb7f2)"><path d="M 0 2.7  C 0.716048 2.7 1.402866 2.415511 1.909188 1.909188  C 2.415511 1.402866 2.7 0.716048 2.7 0  C 2.7 -0.716048 2.415511 -1.402866 1.909188 -1.909188  C 1.402866 -2.415511 0.716048 -2.7 0 -2.7  C -0.716048 -2.7 -1.402866 -2.415511 -1.909188 -1.909188  C -2.415511 -1.402866 -2.7 -0.716048 -2.7 0  C -2.7 0.716048 -2.415511 1.402866 -1.909188 1.909188  C -1.402866 2.415511 -0.716048 2.7 0 2.7  z " style="stroke: #1f77b4; stroke-width: 0.9;fill: #1f77b4; stroke: #1f77b4; stroke-width: 0.9" transform="translate(325.668 340.07)"/><path d="M 0 2.7  C 0.716048 2.7 1.402866 2.415511 1.909188 1.909188  C 2.415511 1.402866 2.7 0.716048 2.7 0  C 2.7 -0.716048 2.415511 -1.402866 1.909188 -1.909188  C 1.402866 -2.415511 0.716048 -2.7 0 -2.7  C -0.716048 -2.7 -1.402866 -2.415511 -1.909188 -1.909188  C -2.415511 -1.402866 -2.7 -0.716048 -2.7 0  C -2.7 0.716048 -2.415511 1.402866 -1.909188 1.909188  C -1.402866 2.415511 -0.716048 2.7 0 2.7  z " style="stroke: #1f77b4; stroke-width: 0.9;fill: #1f77b4; stroke: #1f77b4; stroke-width: 0.9" transform="translate(348.264 341.185)"/><path d="M 0 2.7  C 0.716048 2.7 1.402866 2.415511 1.909188 1.909188  C 2.415511 1.402866 2.7 0.716048 2.7 0  C 2.7 -0.716048 2.415511 -1.402866 1.909188 -1.909188  C 1.402866 -2.415511 0.716048 -2.7 0 -2.7  C -0.716048 -2.7 -1.402866 -2.415511 -1.909188 -1.909188  C -2.415511 -1.402866 -2.7 -0.716048 -2.7 0  C -2.7 0.716048 -2.415511 1.402866 -1.909188 1.909188  C -1.402866 2.415511 -0.716048 2.7 0 2.7  z " style="stroke: #1f77b4; stroke-width: 0.9;fill: #1f77b4; stroke: #1f77b4; stroke-width: 0.9" transform="translate(370.86 343.694)"/><path d="M 0 2.7  C 0.716048 2.7 1.402866 2.415511 1.909188 1.909188  C 2.415511 1.402866 2.7 0.716048 2.7 0  C 2.7 -0.716048 2.415511 -1.402866 1.909188 -1.909188  C 1.402866 -2.415511 0.716048 -2.7 0 -2.7  C -0.716048 -2.7 -1.402866 -2.415511 -1.909188 -1.909188  C -2.415511 -1.402866 -2.7 -0.716048 -2.7 0  C -2.7 0.716048 -2.415511 1.402866 -1.909188 1.909188  C -1.402866 2.415511 -0.716048 2.7 0 2.7  z " style="stroke: #1f77b4; stroke-width: 0.9;fill: #1f77b4; stroke: #1f77b4; stroke-width: 0.9" transform="translate(393.456 346.203)"/><path d="M 0 2.7  C 0.716048 2.7 1.402866 2.415511 1.909188 1.909188  C 2.415511 1.402866 2.7 0.716048 2.7 0  C 2.7 -0.716048 2.415511 -1.402866 1.909188 -1.909188  C 1.402866 -2.415511 0.716048 -2.7 0 -2.7  C -0.716048 -2.7 -1.402866 -2.415511 -1.909188 -1.909188  C -2.415511 -1.402866 -2.7 -0.716048 -2.7 0  C -2.7 0.716048 -2.415511 1.402866 -1.909188 1.909188  C -1.402866 2.415511 -0.716048 2.7 0 2.7  z " style="stroke: #1f77b4; stroke-width: 0.9;fill: #1f77b4; stroke: #1f77b4; stroke-width: 0.9" transform="translate(416.052 348.712)"/><path d="M 0 2.7  C 0.716048 2.7 1.402866 2.415511 1.909188 1.909188  C 2.415511 1.402866 2.7 0.716048 2.7 0  C 2.7 -0.716048 2.415511 -1.402866 1.909188 -1.909188  C 1.402866 -2.415511 0.716048 -2.7 0 -2.7  C -0.716048 -2.7 -1.402866 -2.415511 -1.909188 -1.909188  C -2.415511 -1.402866 -2.7 -0.716048 -2.7 0  C -2.7 0.716048 -2.415511 1.402866 -1.909188 1.909188  C -1.402866 2.415511 -0.716048 2.7 0 2.7  z " style="stroke: #1f77b4; stroke-width: 0.9;fill: #1f77b4; stroke: #1f77b4; stroke-width: 0.9" transform="translate(438.648 351.22)"/><path d="M 0 2.7  C 0.716048 2.7 1.402866 2.415511 1.909188 1.909188  C 2.415511 1.402866 2.7 0.716048 2.7 0  C 2.7 -0.716048 2.415511 -1.402866 1.909188 -1.909188  C 1.402866 -2.415511 0.716048 -2.7 0 -2.7  C -0.716048 -2.7 -1.402866 -2.415511 -1.909188 -1.909188  C -2.415511 -1.402866 -2.7 -0.716048 -2.7 0  C -2.7 0.716048 -2.415511 1.402866 -1.909188 1.909188  C -1.402866 2.415511 -0.716048 2.7 0 2.7  z " style="stroke: #1f77b4; stroke-width: 0.9;fill: #1f77b4; stroke: #1f77b4; stroke-width: 0.9" transform="translate(461.244 354.426)"/><path d="M 0 2.7  C 0.716048 2.7 1.402866 2.415511 1.909188 1.909188  C 2.415511 1.402866 2.7 0.716048 2.7 0  C 2.7 -0.716048 2.415511 -1.402866 1.909188 -1.909188  C 1.402866 -2.415511 0.716048 -2.7 0 -2.7  C -0.716048 -2.7 -1.402866 -2.415511 -1.909188 -1.909188  C -2.415511 -1.402866 -2.7 -0.716048 -2.7 0  C -2.7 0.716048 -2.415511 1.402866 -1.909188 1.909188  C -1.402866 2.415511 -0.716048 2.7 0 2.7  z " style="stroke: #1f77b4; stroke-width: 0.9;fill: #1f77b4; stroke: #1f77b4; stroke-width: 0.9" transform="translate(483.84 358.468)"/><path d="M 0 2.7  C 0.716048 2.7 1.402866 2.415511 1.909188 1.909188  C 2.415511 1.402866 2.7 0.716048 2.7 0  C 2.7 -0.716048 2.415511 -1.402866 1.909188 -1.909188  C 1.402866 -2.415511 0.716048 -2.7 0 -2.7  C -0.716048 -2.7 -1.402866 -2.415511 -1.909188 -1.909188  C -2.415511 -1.402866 -2.7 -0.716048 -2.7 0  C -2.7 0.716048 -2.415511 1.402866 -1.909188 1.909188  C -1.402866 2.415511 -0.716048 2.7 0 2.7  z " style="stroke: #1f77b4; stroke-width: 0.9;fill: #1f77b4; stroke: #1f77b4; stroke-width: 0.9" transform="translate(506.436 364.741)"/><path d="M 0 2.7  C 0.716048 2.7 1.402866 2.415511 1.909188 1.909188  C 2.415511 1.402866 2.7 0.716048 2.7 0  C 2.7 -0.716048 2.415511 -1.402866 1.909188 -1.909188  C 1.402866 -2.415511 0.716048 -2.7 0 -2.7  C -0.716048 -2.7 -1.402866 -2.415511 -1.909188 -1.909188  C -2.415511 -1.402866 -2.7 -0.716048 -2.7 0  C -2.7 0.716048 -2.415511 1.402866 -1.909188 1.909188  C -1.402866 2.415511 -0.716048 2.7 0 2.7  z " style="stroke: #1f77b4; stroke-width: 0.9;fill: #1f77b4; stroke: #1f77b4; stroke-width: 0.9" transform="translate(529.032 374.358)"/></g></g><g id="line2d_59"><path d="M 325.668182 354.983819  L 348.264141 354.983819  L 370.860101 356.935195  L 393.456061 359.025955  L 416.05202 363.207474  L 438.64798 367.388994  L 461.243939 369.34037  L 483.839899 371.570513  L 506.435859 373.661273  L 529.031818 375.473265  " clip-path="url(#p63959fb7f2)" style="fill: none; stroke: #ff7f0e; stroke-width: 1.35; stroke-linecap: square"/><g clip-path="url(#p63959fb7f2)"><path d="M -2.7 2.7  L 2.7 2.7  L 2.7 -2.7  L -2.7 -2.7  z " style="stroke: #ff7f0e; stroke-width: 0.9; stroke-linejoin: miter;fill: #ff7f0e; stroke: #ff7f0e; stroke-width: 0.9; stroke-linejoin: miter" transform="translate(325.668 354.984)"/><path d="M -2.7 2.7  L 2.7 2.7  L 2.7 -2.7  L -2.7 -2.7  z " style="stroke: #ff7f0e; stroke-width: 0.9; stroke-linejoin: miter;fill: #ff7f0e; stroke: #ff7f0e; stroke-width: 0.9; stroke-linejoin: miter" transform="translate(348.264 354.984)"/><path d="M -2.7 2.7  L 2.7 2.7  L 2.7 -2.7  L -2.7 -2.7  z " style="stroke: #ff7f0e; stroke-width: 0.9; stroke-linejoin: miter;fill: #ff7f0e; stroke: #ff7f0e; stroke-width: 0.9; stroke-linejoin: miter" transform="translate(370.86 356.935)"/><path d="M -2.7 2.7  L 2.7 2.7  L 2.7 -2.7  L -2.7 -2.7  z " style="stroke: #ff7f0e; stroke-width: 0.9; stroke-linejoin: miter;fill: #ff7f0e; stroke: #ff7f0e; stroke-width: 0.9; stroke-linejoin: miter" transform="translate(393.456 359.026)"/><path d="M -2.7 2.7  L 2.7 2.7  L 2.7 -2.7  L -2.7 -2.7  z " style="stroke: #ff7f0e; stroke-width: 0.9; stroke-linejoin: miter;fill: #ff7f0e; stroke: #ff7f0e; stroke-width: 0.9; stroke-linejoin: miter" transform="translate(416.052 363.207)"/><path d="M -2.7 2.7  L 2.7 2.7  L 2.7 -2.7  L -2.7 -2.7  z " style="stroke: #ff7f0e; stroke-width: 0.9; stroke-linejoin: miter;fill: #ff7f0e; stroke: #ff7f0e; stroke-width: 0.9; stroke-linejoin: miter" transform="translate(438.648 367.389)"/><path d="M -2.7 2.7  L 2.7 2.7  L 2.7 -2.7  L -2.7 -2.7  z " style="stroke: #ff7f0e; stroke-width: 0.9; stroke-linejoin: miter;fill: #ff7f0e; stroke: #ff7f0e; stroke-width: 0.9; stroke-linejoin: miter" transform="translate(461.244 369.34)"/><path d="M -2.7 2.7  L 2.7 2.7  L 2.7 -2.7  L -2.7 -2.7  z " style="stroke: #ff7f0e; stroke-width: 0.9; stroke-linejoin: miter;fill: #ff7f0e; stroke: #ff7f0e; stroke-width: 0.9; stroke-linejoin: miter" transform="translate(483.84 371.571)"/><path d="M -2.7 2.7  L 2.7 2.7  L 2.7 -2.7  L -2.7 -2.7  z " style="stroke: #ff7f0e; stroke-width: 0.9; stroke-linejoin: miter;fill: #ff7f0e; stroke: #ff7f0e; stroke-width: 0.9; stroke-linejoin: miter" transform="translate(506.436 373.661)"/><path d="M -2.7 2.7  L 2.7 2.7  L 2.7 -2.7  L -2.7 -2.7  z " style="stroke: #ff7f0e; stroke-width: 0.9; stroke-linejoin: miter;fill: #ff7f0e; stroke: #ff7f0e; stroke-width: 0.9; stroke-linejoin: miter" transform="translate(529.032 375.473)"/></g></g><g id="line2d_60"><path d="M 325.668182 309.405257  L 348.264141 310.659713  L 370.860101 311.774784  L 393.456061 313.02924  L 416.05202 314.283696  L 438.64798 315.538152  L 461.243939 317.21076  L 483.839899 325.016263  L 506.435859 342.299877  L 529.031818 358.050267  " clip-path="url(#p63959fb7f2)" style="fill: none; stroke: #2ca02c; stroke-width: 1.35; stroke-linecap: square"/><g clip-path="url(#p63959fb7f2)"><path d="M -0 3.818377  L 3.818377 0  L 0 -3.818377  L -3.818377 -0  z " style="stroke: #2ca02c; stroke-width: 0.9; stroke-linejoin: miter;fill: #2ca02c; stroke: #2ca02c; stroke-width: 0.9; stroke-linejoin: miter" transform="translate(325.668 309.405)"/><path d="M -0 3.818377  L 3.818377 0  L 0 -3.818377  L -3.818377 -0  z " style="stroke: #2ca02c; stroke-width: 0.9; stroke-linejoin: miter;fill: #2ca02c; stroke: #2ca02c; stroke-width: 0.9; stroke-linejoin: miter" transform="translate(348.264 310.66)"/><path d="M -0 3.818377  L 3.818377 0  L 0 -3.818377  L -3.818377 -0  z " style="stroke: #2ca02c; stroke-width: 0.9; stroke-linejoin: miter;fill: #2ca02c; stroke: #2ca02c; stroke-width: 0.9; stroke-linejoin: miter" transform="translate(370.86 311.775)"/><path d="M -0 3.818377  L 3.818377 0  L 0 -3.818377  L -3.818377 -0  z " style="stroke: #2ca02c; stroke-width: 0.9; stroke-linejoin: miter;fill: #2ca02c; stroke: #2ca02c; stroke-width: 0.9; stroke-linejoin: miter" transform="translate(393.456 313.029)"/><path d="M -0 3.818377  L 3.818377 0  L 0 -3.818377  L -3.818377 -0  z " style="stroke: #2ca02c; stroke-width: 0.9; stroke-linejoin: miter;fill: #2ca02c; stroke: #2ca02c; stroke-width: 0.9; stroke-linejoin: miter" transform="translate(416.052 314.284)"/><path d="M -0 3.818377  L 3.818377 0  L 0 -3.818377  L -3.818377 -0  z " style="stroke: #2ca02c; stroke-width: 0.9; stroke-linejoin: miter;fill: #2ca02c; stroke: #2ca02c; stroke-width: 0.9; stroke-linejoin: miter" transform="translate(438.648 315.538)"/><path d="M -0 3.818377  L 3.818377 0  L 0 -3.818377  L -3.818377 -0  z " style="stroke: #2ca02c; stroke-width: 0.9; stroke-linejoin: miter;fill: #2ca02c; stroke: #2ca02c; stroke-width: 0.9; stroke-linejoin: miter" transform="translate(461.244 317.211)"/><path d="M -0 3.818377  L 3.818377 0  L 0 -3.818377  L -3.818377 -0  z " style="stroke: #2ca02c; stroke-width: 0.9; stroke-linejoin: miter;fill: #2ca02c; stroke: #2ca02c; stroke-width: 0.9; stroke-linejoin: miter" transform="translate(483.84 325.016)"/><path d="M -0 3.818377  L 3.818377 0  L 0 -3.818377  L -3.818377 -0  z " style="stroke: #2ca02c; stroke-width: 0.9; stroke-linejoin: miter;fill: #2ca02c; stroke: #2ca02c; stroke-width: 0.9; stroke-linejoin: miter" transform="translate(506.436 342.3)"/><path d="M -0 3.818377  L 3.818377 0  L 0 -3.818377  L -3.818377 -0  z " style="stroke: #2ca02c; stroke-width: 0.9; stroke-linejoin: miter;fill: #2ca02c; stroke: #2ca02c; stroke-width: 0.9; stroke-linejoin: miter" transform="translate(529.032 358.05)"/></g></g><g id="line2d_61"><path d="M 325.668182 220.757043  L 348.264141 222.847803  L 370.860101 225.356715  L 393.456061 228.562546  L 416.05202 231.907762  L 438.64798 237.343737  L 461.243939 244.731088  L 483.839899 275.395565  L 506.435859 348.990308  L 529.031818 370.594825  " clip-path="url(#p63959fb7f2)" style="fill: none; stroke: #d62728; stroke-width: 1.35; stroke-linecap: square"/><g clip-path="url(#p63959fb7f2)"><path d="M 0 -2.7  L -2.7 2.7  L 2.7 2.7  z " style="stroke: #d62728; stroke-width: 0.9; stroke-linejoin: miter;fill: #d62728; stroke: #d62728; stroke-width: 0.9; stroke-linejoin: miter" transform="translate(325.668 220.757)"/><path d="M 0 -2.7  L -2.7 2.7  L 2.7 2.7  z " style="stroke: #d62728; stroke-width: 0.9; stroke-linejoin: miter;fill: #d62728; stroke: #d62728; stroke-width: 0.9; stroke-linejoin: miter" transform="translate(348.264 222.848)"/><path d="M 0 -2.7  L -2.7 2.7  L 2.7 2.7  z " style="stroke: #d62728; stroke-width: 0.9; stroke-linejoin: miter;fill: #d62728; stroke: #d62728; stroke-width: 0.9; stroke-linejoin: miter" transform="translate(370.86 225.357)"/><path d="M 0 -2.7  L -2.7 2.7  L 2.7 2.7  z " style="stroke: #d62728; stroke-width: 0.9; stroke-linejoin: miter;fill: #d62728; stroke: #d62728; stroke-width: 0.9; stroke-linejoin: miter" transform="translate(393.456 228.563)"/><path d="M 0 -2.7  L -2.7 2.7  L 2.7 2.7  z " style="stroke: #d62728; stroke-width: 0.9; stroke-linejoin: miter;fill: #d62728; stroke: #d62728; stroke-width: 0.9; stroke-linejoin: miter" transform="translate(416.052 231.908)"/><path d="M 0 -2.7  L -2.7 2.7  L 2.7 2.7  z " style="stroke: #d62728; stroke-width: 0.9; stroke-linejoin: miter;fill: #d62728; stroke: #d62728; stroke-width: 0.9; stroke-linejoin: miter" transform="translate(438.648 237.344)"/><path d="M 0 -2.7  L -2.7 2.7  L 2.7 2.7  z " style="stroke: #d62728; stroke-width: 0.9; stroke-linejoin: miter;fill: #d62728; stroke: #d62728; stroke-width: 0.9; stroke-linejoin: miter" transform="translate(461.244 244.731)"/><path d="M 0 -2.7  L -2.7 2.7  L 2.7 2.7  z " style="stroke: #d62728; stroke-width: 0.9; stroke-linejoin: miter;fill: #d62728; stroke: #d62728; stroke-width: 0.9; stroke-linejoin: miter" transform="translate(483.84 275.396)"/><path d="M 0 -2.7  L -2.7 2.7  L 2.7 2.7  z " style="stroke: #d62728; stroke-width: 0.9; stroke-linejoin: miter;fill: #d62728; stroke: #d62728; stroke-width: 0.9; stroke-linejoin: miter" transform="translate(506.436 348.99)"/><path d="M 0 -2.7  L -2.7 2.7  L 2.7 2.7  z " style="stroke: #d62728; stroke-width: 0.9; stroke-linejoin: miter;fill: #d62728; stroke: #d62728; stroke-width: 0.9; stroke-linejoin: miter" transform="translate(529.032 370.595)"/></g></g><g id="line2d_62"><path d="M 325.668182 342.439261  L 348.264141 344.948172  L 370.860101 347.457084  L 393.456061 349.129692  L 416.05202 349.965996  L 438.64798 350.8023  L 461.243939 350.8023  L 483.839899 357.632115  L 506.435859 364.601314  L 529.031818 368.922218  " clip-path="url(#p63959fb7f2)" style="fill: none; stroke: #9467bd; stroke-width: 1.35; stroke-linecap: square"/><g clip-path="url(#p63959fb7f2)"><path d="M -0 2.7  L 2.7 -2.7  L -2.7 -2.7  z " style="stroke: #9467bd; stroke-width: 0.9; stroke-linejoin: miter;fill: #9467bd; stroke: #9467bd; stroke-width: 0.9; stroke-linejoin: miter" transform="translate(325.668 342.439)"/><path d="M -0 2.7  L 2.7 -2.7  L -2.7 -2.7  z " style="stroke: #9467bd; stroke-width: 0.9; stroke-linejoin: miter;fill: #9467bd; stroke: #9467bd; stroke-width: 0.9; stroke-linejoin: miter" transform="translate(348.264 344.948)"/><path d="M -0 2.7  L 2.7 -2.7  L -2.7 -2.7  z " style="stroke: #9467bd; stroke-width: 0.9; stroke-linejoin: miter;fill: #9467bd; stroke: #9467bd; stroke-width: 0.9; stroke-linejoin: miter" transform="translate(370.86 347.457)"/><path d="M -0 2.7  L 2.7 -2.7  L -2.7 -2.7  z " style="stroke: #9467bd; stroke-width: 0.9; stroke-linejoin: miter;fill: #9467bd; stroke: #9467bd; stroke-width: 0.9; stroke-linejoin: miter" transform="translate(393.456 349.13)"/><path d="M -0 2.7  L 2.7 -2.7  L -2.7 -2.7  z " style="stroke: #9467bd; stroke-width: 0.9; stroke-linejoin: miter;fill: #9467bd; stroke: #9467bd; stroke-width: 0.9; stroke-linejoin: miter" transform="translate(416.052 349.966)"/><path d="M -0 2.7  L 2.7 -2.7  L -2.7 -2.7  z " style="stroke: #9467bd; stroke-width: 0.9; stroke-linejoin: miter;fill: #9467bd; stroke: #9467bd; stroke-width: 0.9; stroke-linejoin: miter" transform="translate(438.648 350.802)"/><path d="M -0 2.7  L 2.7 -2.7  L -2.7 -2.7  z " style="stroke: #9467bd; stroke-width: 0.9; stroke-linejoin: miter;fill: #9467bd; stroke: #9467bd; stroke-width: 0.9; stroke-linejoin: miter" transform="translate(461.244 350.802)"/><path d="M -0 2.7  L 2.7 -2.7  L -2.7 -2.7  z " style="stroke: #9467bd; stroke-width: 0.9; stroke-linejoin: miter;fill: #9467bd; stroke: #9467bd; stroke-width: 0.9; stroke-linejoin: miter" transform="translate(483.84 357.632)"/><path d="M -0 2.7  L 2.7 -2.7  L -2.7 -2.7  z " style="stroke: #9467bd; stroke-width: 0.9; stroke-linejoin: miter;fill: #9467bd; stroke: #9467bd; stroke-width: 0.9; stroke-linejoin: miter" transform="translate(506.436 364.601)"/><path d="M -0 2.7  L 2.7 -2.7  L -2.7 -2.7  z " style="stroke: #9467bd; stroke-width: 0.9; stroke-linejoin: miter;fill: #9467bd; stroke: #9467bd; stroke-width: 0.9; stroke-linejoin: miter" transform="translate(529.032 368.922)"/></g></g><g id="patch_18"><path d="M 315.5 383  L 315.5 213.3  " style="fill: none; stroke: #000000; stroke-linejoin: miter; stroke-linecap: square"/></g><g id="patch_19"><path d="M 539.2 383  L 539.2 213.3  " style="fill: none; stroke: #000000; stroke-linejoin: miter; stroke-linecap: square"/></g><g id="patch_20"><path d="M 315.5 383  L 539.2 383  " style="fill: none; stroke: #000000; stroke-linejoin: miter; stroke-linecap: square"/></g><g id="patch_21"><path d="M 315.5 213.3  L 539.2 213.3  " style="fill: none; stroke: #000000; stroke-linejoin: miter; stroke-linecap: square"/></g></g><g id="legend_1"><g id="patch_22"><path d="M 579.58 245.94625  L 682.67325 245.94625  Q 684.75325 245.94625 684.75325 243.86625  L 684.75325 168.58  Q 684.75325 166.5 682.67325 166.5  L 579.58 166.5  Q 577.5 166.5 577.5 168.58  L 577.5 243.86625  Q 577.5 245.94625 579.58 245.94625  z " style="fill: #ffffff; opacity: 0.8; stroke: #cccccc; stroke-linejoin: miter"/></g><g id="line2d_63"><path d="M 581.66 174.922375  L 592.06 174.922375  L 602.46 174.922375  " style="fill: none; stroke: #1f77b4; stroke-width: 1.35; stroke-linecap: square"/><g><path d="M 0 2.7  C 0.716048 2.7 1.402866 2.415511 1.909188 1.909188  C 2.415511 1.402866 2.7 0.716048 2.7 0  C 2.7 -0.716048 2.415511 -1.402866 1.909188 -1.909188  C 1.402866 -2.415511 0.716048 -2.7 0 -2.7  C -0.716048 -2.7 -1.402866 -2.415511 -1.909188 -1.909188  C -2.415511 -1.402866 -2.7 -0.716048 -2.7 0  C -2.7 0.716048 -2.415511 1.402866 -1.909188 1.909188  C -1.402866 2.415511 -0.716048 2.7 0 2.7  z " style="stroke: #1f77b4; stroke-width: 0.9;fill: #1f77b4; stroke: #1f77b4; stroke-width: 0.9" transform="translate(592.06 174.922)"/></g></g><g id="text_51"><text style="font-size:10.92px;font-family:&quot;Liberation Sans&quot;, sans-serif;text-anchor:start" x="610.78" y="178.562" textLength="69.813" lengthAdjust="spacingAndGlyphs">Stainless 316</text></g><g id="line2d_64"><path d="M 581.66 190.187625  L 592.06 190.187625  L 602.46 190.187625  " style="fill: none; stroke: #ff7f0e; stroke-width: 1.35; stroke-linecap: square"/><g><path d="M -2.7 2.7  L 2.7 2.7  L 2.7 -2.7  L -2.7 -2.7  z " style="stroke: #ff7f0e; stroke-width: 0.9; stroke-linejoin: miter;fill: #ff7f0e; stroke: #ff7f0e; stroke-width: 0.9; stroke-linejoin: miter" transform="translate(592.06 190.188)"/></g></g><g id="text_52"><text style="font-size:10.92px;font-family:&quot;Liberation Sans&quot;, sans-serif;text-anchor:start" x="610.78" y="193.828" textLength="54.478" lengthAdjust="spacingAndGlyphs">Nickel 200</text></g><g id="line2d_65"><path d="M 581.66 205.452875  L 592.06 205.452875  L 602.46 205.452875  " style="fill: none; stroke: #2ca02c; stroke-width: 1.35; stroke-linecap: square"/><g><path d="M -0 3.818377  L 3.818377 0  L 0 -3.818377  L -3.818377 -0  z " style="stroke: #2ca02c; stroke-width: 0.9; stroke-linejoin: miter;fill: #2ca02c; stroke: #2ca02c; stroke-width: 0.9; stroke-linejoin: miter" transform="translate(592.06 205.453)"/></g></g><g id="text_53"><text style="font-size:10.92px;font-family:&quot;Liberation Sans&quot;, sans-serif;text-anchor:start" x="610.78" y="209.093" textLength="60.777" lengthAdjust="spacingAndGlyphs">Inconel 625</text></g><g id="line2d_66"><path d="M 581.66 220.718125  L 592.06 220.718125  L 602.46 220.718125  " style="fill: none; stroke: #d62728; stroke-width: 1.35; stroke-linecap: square"/><g><path d="M 0 -2.7  L -2.7 2.7  L 2.7 2.7  z " style="stroke: #d62728; stroke-width: 0.9; stroke-linejoin: miter;fill: #d62728; stroke: #d62728; stroke-width: 0.9; stroke-linejoin: miter" transform="translate(592.06 220.718)"/></g></g><g id="text_54"><text style="font-size:10.92px;font-family:&quot;Liberation Sans&quot;, sans-serif;text-anchor:start" x="610.78" y="224.358" textLength="60.777" lengthAdjust="spacingAndGlyphs">Inconel 718</text></g><g id="line2d_67"><path d="M 581.66 235.983375  L 592.06 235.983375  L 602.46 235.983375  " style="fill: none; stroke: #9467bd; stroke-width: 1.35; stroke-linecap: square"/><g><path d="M -0 2.7  L 2.7 -2.7  L -2.7 -2.7  z " style="stroke: #9467bd; stroke-width: 0.9; stroke-linejoin: miter;fill: #9467bd; stroke: #9467bd; stroke-width: 0.9; stroke-linejoin: miter" transform="translate(592.06 235.983)"/></g></g><g id="text_55"><text style="font-size:10.92px;font-family:&quot;Liberation Sans&quot;, sans-serif;text-anchor:start" x="610.78" y="239.623" textLength="60.305" lengthAdjust="spacingAndGlyphs">Incoloy 800</text></g></g></g><defs><clipPath id="pe776937f75"><rect x="36" y="0.6" width="223.5" height="169.85"/></clipPath><clipPath id="p05e5b74127"><rect x="315.5" y="0.6" width="223.7" height="169.85"/></clipPath><clipPath id="pfe1ac569b4"><rect x="36" y="213.3" width="223.5" height="169.7"/></clipPath><clipPath id="p63959fb7f2"><rect x="315.5" y="213.3" width="223.7" height="169.7"/></clipPath></defs></svg>
</body></html>
